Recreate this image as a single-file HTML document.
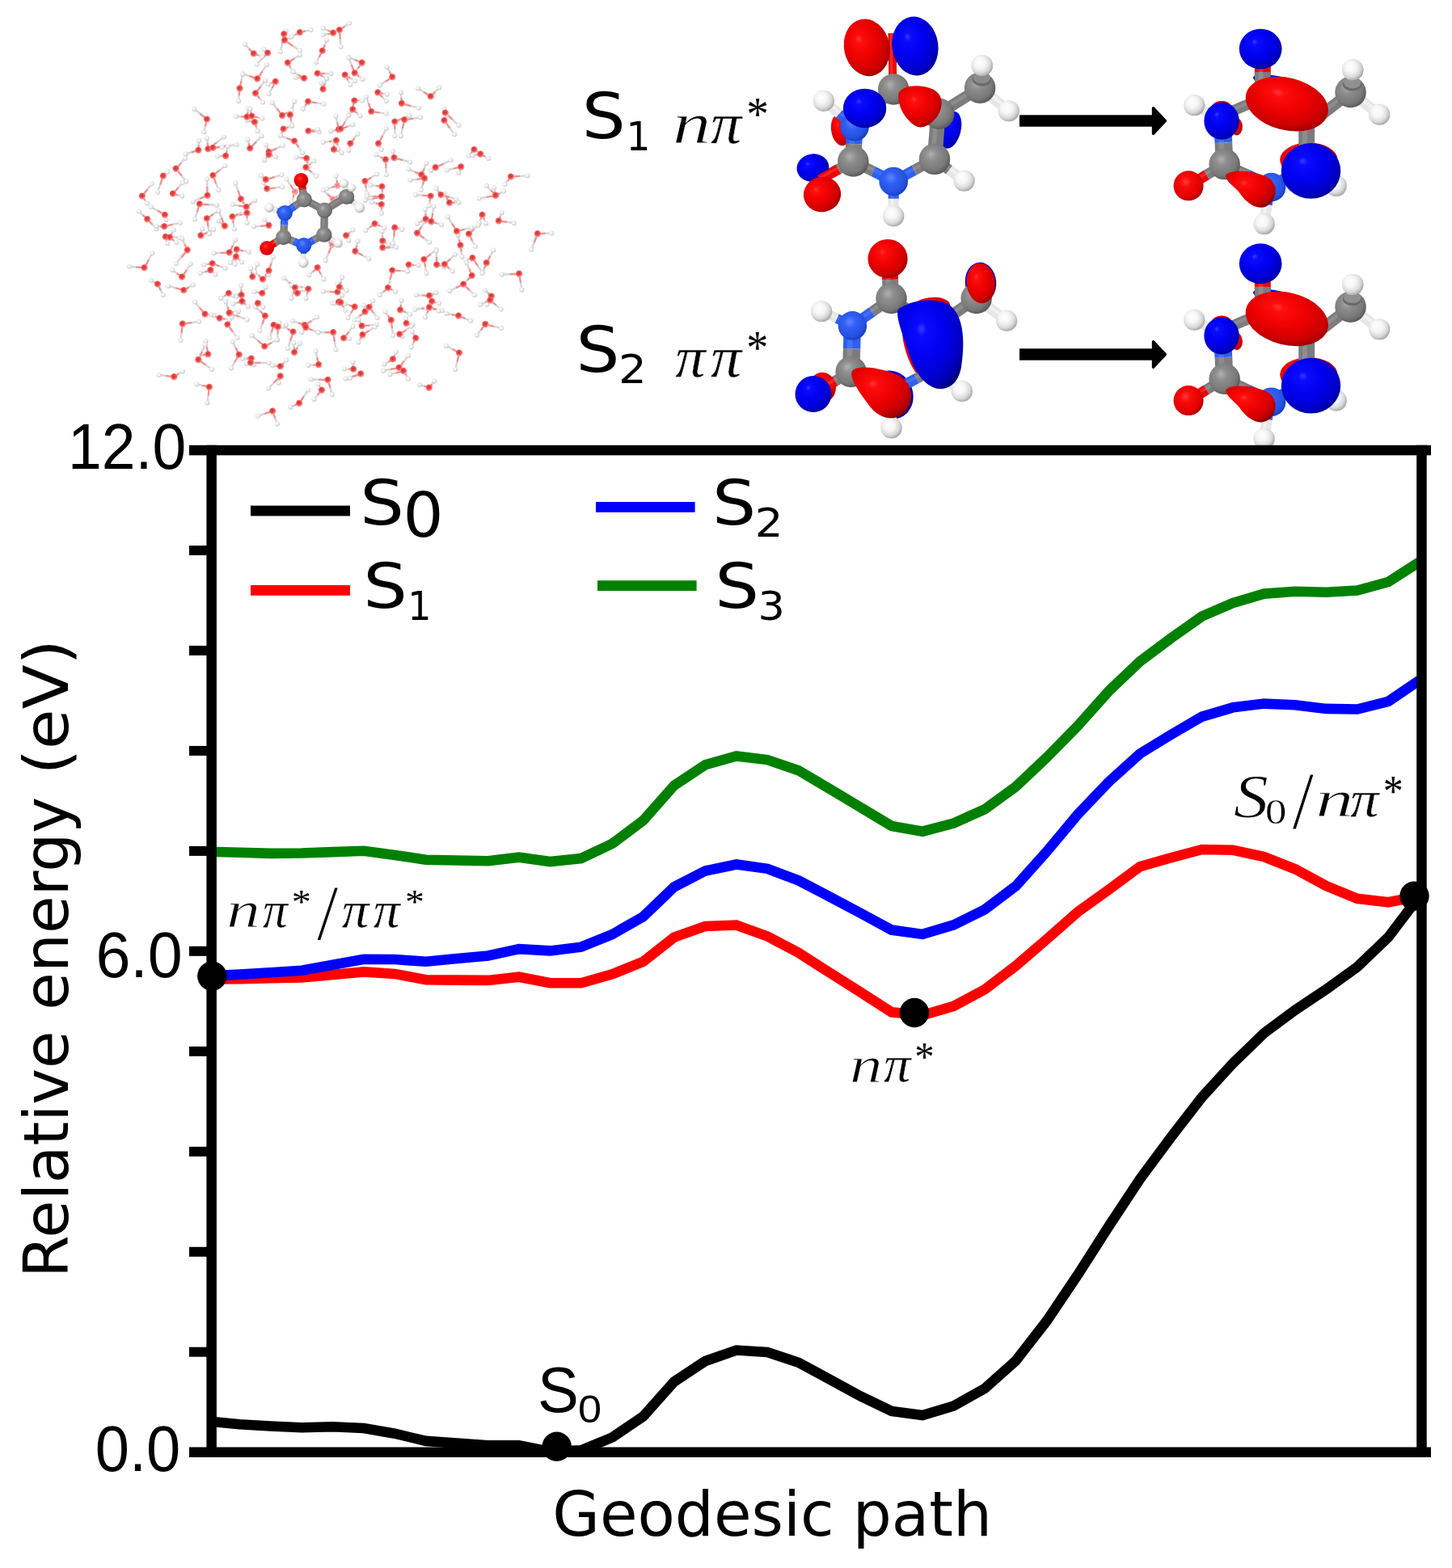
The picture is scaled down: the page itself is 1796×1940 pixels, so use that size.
<!DOCTYPE html>
<html lang="en">
<head>
<meta charset="utf-8">
<title>Relative energy along the geodesic path</title>
<style>
html,body{margin:0;padding:0;background:#fff;}
body{width:1796px;height:1940px;overflow:hidden;}
svg{display:block;}
</style>
</head>
<body>
<svg width="1796" height="1940" viewBox="0 0 1796 1940">
<rect x="0" y="0" width="1796" height="1940" fill="#ffffff"/>
<!--MOL-->
<defs>
<radialGradient id="gC" cx="0.42" cy="0.40" r="0.64" fx="0.38" fy="0.34"><stop offset="0" stop-color="#b0b0b0"/><stop offset="0.3" stop-color="#8e8e8e"/><stop offset="0.75" stop-color="#787878"/><stop offset="0.93" stop-color="#5e5e5e"/><stop offset="1" stop-color="#4c4c4c"/></radialGradient>
<radialGradient id="gN" cx="0.42" cy="0.40" r="0.62" fx="0.40" fy="0.36"><stop offset="0" stop-color="#5b86ff"/><stop offset="0.35" stop-color="#3060f4"/><stop offset="0.8" stop-color="#2450e0"/><stop offset="1" stop-color="#1a3cb4"/></radialGradient>
<radialGradient id="gO" cx="0.42" cy="0.40" r="0.62" fx="0.40" fy="0.36"><stop offset="0" stop-color="#ff3a3a"/><stop offset="0.3" stop-color="#f80a0a"/><stop offset="0.8" stop-color="#e00000"/><stop offset="1" stop-color="#a80000"/></radialGradient>
<radialGradient id="gH" cx="0.42" cy="0.40" r="0.64" fx="0.38" fy="0.34"><stop offset="0" stop-color="#ffffff"/><stop offset="0.4" stop-color="#f6f6f6"/><stop offset="0.72" stop-color="#dadada"/><stop offset="0.92" stop-color="#b0b0b0"/><stop offset="1" stop-color="#949494"/></radialGradient>
<radialGradient id="gR" cx="0.42" cy="0.40" r="0.66" fx="0.36" fy="0.32"><stop offset="0" stop-color="#ff3838"/><stop offset="0.12" stop-color="#ff0c0c"/><stop offset="0.5" stop-color="#ec0000"/><stop offset="0.8" stop-color="#cc0000"/><stop offset="0.95" stop-color="#a00000"/><stop offset="1" stop-color="#800000"/></radialGradient>
<radialGradient id="gB" cx="0.42" cy="0.40" r="0.66" fx="0.36" fy="0.32"><stop offset="0" stop-color="#3a3aff"/><stop offset="0.12" stop-color="#0a0aff"/><stop offset="0.5" stop-color="#0000ee"/><stop offset="0.8" stop-color="#0000c8"/><stop offset="0.95" stop-color="#00009a"/><stop offset="1" stop-color="#000078"/></radialGradient>
<radialGradient id="wO" cx="0.45" cy="0.42" r="0.6"><stop offset="0" stop-color="#e02626"/><stop offset="0.5" stop-color="#e84c4c"/><stop offset="1" stop-color="#f7b4b4"/></radialGradient>
<radialGradient id="wo" cx="0.45" cy="0.42" r="0.6"><stop offset="0" stop-color="#ee7070"/><stop offset="1" stop-color="#f8c4c4"/></radialGradient>
<radialGradient id="wH" cx="0.42" cy="0.40" r="0.62"><stop offset="0" stop-color="#ffffff"/><stop offset="0.45" stop-color="#f0f0f0"/><stop offset="1" stop-color="#c4c4c4"/></radialGradient>
</defs>
<g id="water-cluster"><path d="M352.7,40.3L353.7,38.6M349.0,54.3L346.9,64.1M362.5,56.9L371.0,62.6M355.9,47.8L359.0,46.1M378.4,38.4L384.5,37.1M365.2,43.0L360.5,45.3M405.3,37.5L399.6,34.8M405.3,42.1L399.6,43.1M307.9,60.2L303.0,55.1M319.7,68.4L324.4,70.1M328.7,63.1L326.6,61.1M323.7,73.2L317.6,79.5M364.2,72.3L371.0,67.9M359.3,83.4L362.0,88.2M401.7,55.5L404.1,49.4M394.7,70.6L391.3,76.9M324.8,87.8L330.1,79.9M308.3,94.0L300.0,91.2M336.4,109.2L332.7,116.0M336.0,102.6L331.9,104.0M370.5,96.2L365.7,95.7M368.8,92.5L362.7,88.9M401.9,91.0L409.3,91.2M399.0,94.4L404.1,97.2M298.5,99.8L300.0,91.9M295.7,118.0L295.1,125.0M322.7,106.7L328.1,99.4M321.1,121.6L325.1,126.5M398.3,106.0L397.3,102.5M402.0,103.1L404.1,97.2M247.3,140.5L240.2,134.8M253.9,156.2L252.2,163.3M298.2,144.3L292.1,143.8M306.4,138.9L307.1,134.0M318.6,145.3L324.4,146.5M310.4,138.8L309.4,134.8M317.1,157.3L318.7,162.1M310.0,150.0L305.9,148.9M342.4,134.2L336.9,127.0M355.4,139.3L360.5,136.3M361.9,133.0L364.2,125.5M360.2,149.7L361.2,155.8M391.7,127.4L400.3,128.8M377.7,130.7L374.7,134.8M356.5,157.3L361.2,155.5M348.6,164.0L346.9,167.6M389.0,162.8L395.0,163.3M387.7,161.1L392.8,160.3M354.7,170.9L346.9,167.9M369.6,182.5L374.0,188.9M417.0,151.2L415.3,143.8M413.6,161.4L409.1,162.2M236.8,188.4L229.7,190.4M245.7,179.3L246.0,173.9M256.7,176.9L256.0,170.9M268.2,176.1L277.0,169.4M269.7,182.5L274.8,182.1M279.6,180.8L292.8,179.1M307.7,177.4L306.3,172.4M317.2,175.1L323.6,168.2M342.2,183.6L349.9,179.9M330.7,183.2L329.0,179.2M407.0,175.1L399.6,176.1M417.3,179.4L418.3,183.9M418.4,187.2L422.7,188.9M413.2,179.4L413.3,174.7M426.6,32.5L432.0,28.8M420.8,48.6L421.5,58.1M438.7,73.9L431.3,70.9M442.4,85.1L438.0,91.2M444.2,94.6L448.6,97.9M434.7,80.1L431.3,71.6M430.5,99.3L433.5,104.7M433.4,96.8L438.8,100.2M481.7,88.5L478.6,82.9M476.7,100.9L469.6,105.5M473.1,120.3L477.9,125.0M473.6,115.7L478.6,116.7M524.1,113.8L517.0,109.2M538.5,113.4L543.3,108.5M496.4,120.6L495.9,114.5M508.4,131.1L517.7,133.6M436.6,131.0L435.0,136.3M443.7,124.4L448.0,124.3M433.6,139.2L431.3,142.3M441.4,139.8L445.4,143.3M455.9,128.0L453.1,119.7M469.6,139.4L477.9,140.5M550.0,136.8L549.3,134.5M559.9,148.1L567.3,155.1M556.5,158.6L562.1,166.3M551.1,145.3L552.3,142.3M488.4,160.1L488.4,167.9M498.3,146.4L506.4,143.0M497.9,159.1L495.9,167.9M511.2,146.7L520.0,145.3M429.8,156.7L436.5,154.3M426.9,150.5L431.3,143.0M438.5,171.0L442.6,165.6M432.3,182.2L431.3,185.9M473.5,167.5L477.9,159.1M470.2,181.8L471.9,185.1M590.9,187.8L594.4,189.9M582.7,189.2L579.6,192.6M223.9,201.8L228.9,196.0M224.7,217.5L230.4,224.6M204.8,214.9L207.1,212.6M198.1,228.6L195.1,237.4M182.3,234.3L187.6,227.6M179.3,247.6L182.1,251.6M220.1,241.3L225.2,242.6M220.5,232.2L225.9,226.1M271.8,210.4L278.5,205.0M267.2,227.0L270.3,235.1M256.3,230.7L256.0,221.6M246.8,246.0L238.7,249.4M258.5,253.2L268.0,253.9M243.7,262.7L241.0,271.2M294.4,235.6L291.3,226.8M301.8,251.7L304.8,256.1M310.6,251.6L315.4,247.9M295.3,254.5L287.6,253.1M305.6,270.3L305.6,275.7M296.1,266.1L288.3,268.2M288.8,276.4L289.8,283.2M294.6,264.9L300.3,262.2M257.6,280.8L259.0,289.2M263.8,265.1L270.3,260.7M273.8,269.2L270.3,260.7M273.8,276.3L270.3,273.4M249.3,286.9L250.0,283.2M257.2,287.3L264.3,284.0M194.6,260.5L186.8,256.1M204.9,269.2L205.6,271.9M176.5,265.8L171.8,261.4M188.5,277.8L193.6,283.2M214.1,277.7L222.9,275.7M198.0,280.2L193.6,280.2M214.4,293.4L222.2,293.7M206.1,297.5L207.1,301.2M214.7,297.2L218.4,300.0M212.7,288.7L214.8,284.6M228.2,301.7L225.2,295.2M224.1,318.6L217.7,326.1M322.3,279.7L313.9,280.2M329.8,275.1L327.4,271.9M325.6,219.4L322.9,217.1M339.6,219.0L348.4,216.3M340.7,232.4L349.2,231.3M327.9,229.5L325.9,226.1M359.2,228.7L354.5,221.6M362.5,244.4L360.5,250.1M385.5,213.1L391.3,217.8M383.9,202.7L388.3,199.0M372.2,195.2L366.5,194.5M380.4,201.7L381.3,206.4M273.7,193.1L269.1,193.2M280.7,186.5L281.9,181.2M329.6,195.2L327.0,198.2M337.2,192.9L341.0,194.1M405.0,240.2L399.6,235.1M417.2,243.0L421.8,240.3M410.2,231.9L404.1,233.6M416.5,223.1L415.7,217.6M273.0,312.9L264.3,313.3M287.9,303.8L291.3,296.7M301.1,310.4L307.9,311.8M291.6,318.7L290.6,326.8M296.0,321.3L299.1,324.3M288.3,321.7L285.2,325.0M257.0,326.9L252.2,327.6M271.4,329.4L278.5,332.1M253.5,336.4L247.7,338.1M263.8,337.1L266.5,339.4M168.2,330.5L159.8,329.8M183.9,321.4L188.3,313.3M218.6,338.0L213.1,334.3M231.0,333.9L235.7,326.8M335.5,325.6L337.9,317.8M328.1,341.3L324.4,346.3M315.7,333.9L318.4,326.8M311.1,336.8L310.1,332.1M319.8,340.6L315.4,336.6M329.1,342.4L332.4,339.8M406.3,313.5L402.6,322.3M406.8,299.2L403.5,296.3M387.0,336.3L382.3,340.3M396.9,339.2L400.3,345.6M190.6,349.1L186.8,347.1M198.8,359.1L201.9,365.1M216.7,356.2L207.9,353.9M233.6,355.4L238.7,352.4M277.7,366.2L273.3,368.9M287.9,365.2L291.9,367.1M298.4,358.5L298.1,353.1M292.8,365.2L287.8,365.3M357.5,349.5L351.4,344.1M362.5,363.1L360.5,368.9M372.4,355.1L365.0,353.1M379.9,363.8L378.5,368.9M363.9,357.4L360.5,352.9M372.4,360.2L376.1,358.1M407.7,361.0L399.6,360.6M417.4,356.0L417.3,351.6M326.9,358.8L328.9,355.4M319.0,361.8L314.6,360.9M470.5,194.2L465.1,191.5M477.5,207.9L477.9,216.3M498.4,198.2L507.2,200.5M486.8,190.9L486.1,187.3M459.4,219.5L465.9,215.6M452.8,232.7L453.8,239.6M464.8,229.9L458.3,229.1M473.0,237.5L473.4,242.9M461.9,243.0L453.8,242.6M460.7,245.8L451.6,247.9M471.9,258.9L471.9,263.7M465.3,251.5L459.8,250.1M512.8,212.6L505.7,209.5M524.8,208.5L527.5,202.0M515.3,221.9L507.2,222.8M522.8,228.7L520.7,235.1M549.1,202.3L557.6,198.3M535.5,209.4L532.8,211.0M560.8,208.6L553.0,210.3M568.7,210.7L567.3,214.1M599.8,193.6L604.2,196.0M589.0,191.6L584.6,192.3M643.1,217.9L652.3,217.4M627.8,223.9L624.5,228.3M618.6,239.0L623.0,236.6M607.0,235.3L601.9,229.8M602.0,243.9L592.9,245.6M612.0,236.6L611.1,232.3M522.4,241.8L514.0,241.1M531.5,249.2L530.5,254.6M542.2,236.6L539.5,232.8M555.9,244.0L564.3,246.4M552.3,244.7L549.3,239.6M562.4,250.8L567.6,250.8M520.9,274.1L516.2,276.4M526.3,264.4L526.0,258.8M535.2,263.9L536.5,255.4M540.5,276.3L546.3,277.9M524.5,294.7L531.2,299.7M521.2,280.6L525.2,274.2M558.9,276.3L553.8,268.2M575.0,283.7L583.1,281.7M594.6,271.3L592.9,275.7M599.1,271.7L601.2,276.4M584.2,298.0L587.6,305.0M586.3,283.6L591.4,278.7M619.0,267.6L620.7,262.9M627.3,274.8L635.7,276.0M674.6,288.8L682.3,288.5M660.7,300.0L657.2,308.8M570.7,311.4L571.5,317.8M567.9,296.5L566.6,290.7M457.4,281.4L452.3,285.0M470.2,279.5L475.6,281.7M493.4,282.9L497.4,284.0M487.2,292.5L486.1,301.2M473.0,291.6L472.6,286.2M477.3,300.5L480.5,302.3M482.5,306.3L489.9,306.1M473.1,300.6L472.9,295.7M429.9,294.8L431.3,297.5M432.6,287.7L436.2,284.6M441.2,304.0L442.6,298.2M448.6,316.0L456.1,320.0M512.3,328.0L517.7,328.3M504.9,332.0L504.3,335.7M532.8,314.3L539.5,308.8M526.1,330.4L527.5,338.1M539.9,318.0L539.5,310.3M545.1,329.0L549.0,330.2M557.1,320.3L562.8,314.8M555.4,331.9L559.8,335.8M580.1,320.5L576.3,321.5M591.2,329.2L596.6,337.3M606.5,316.6L610.2,309.5M599.0,332.3L596.6,338.1M580.1,332.4L577.1,325.3M578.1,346.5L573.3,350.9M563.8,356.2L556.1,359.9M580.8,359.1L586.9,365.1M630.4,339.2L620.7,339.6M644.0,349.6L645.5,358.4M495.7,335.1L504.2,335.5M482.5,346.0L480.1,355.4M474.3,361.1L469.6,365.1M485.1,358.6L489.1,360.7M522.2,365.5L514.7,365.1M535.8,363.8L539.5,362.1M603.5,362.6L599.9,359.3M604.7,372.3L602.2,377.0M421.7,348.8L423.0,343.3M424.7,357.6L428.6,359.4M237.1,399.2L246.2,397.8M224.5,412.0L223.4,421.1M246.7,380.5L241.0,373.8M259.5,389.6L264.3,390.3M266.0,391.4L261.2,389.5M278.4,394.7L283.8,395.6M290.0,386.0L295.1,385.0M295.8,391.8L305.6,395.6M281.3,379.4L279.3,373.0M288.1,387.5L291.6,387.7M288.2,410.7L293.6,418.1M284.4,396.6L286.8,392.6M293.4,374.7L288.3,376.0M303.6,376.5L306.9,379.3M317.1,377.3L315.4,379.0M322.6,377.8L325.4,379.9M324.4,401.0L321.4,409.1M321.5,384.8L316.1,379.8M342.4,400.7L345.4,399.3M335.8,411.0L333.4,418.1M343.5,413.3L343.2,420.4M349.3,403.1L353.8,402.0M359.0,421.8L356.0,430.9M355.7,406.9L349.9,403.8M368.7,399.4L362.0,397.1M385.3,396.9L392.0,392.6M386.8,408.6L393.5,411.3M375.7,408.6L373.3,411.2M414.0,422.9L415.3,432.4M402.0,411.3L393.5,411.3M318.7,421.2L311.6,415.1M335.7,424.1L342.4,420.4M367.9,429.9L371.0,424.9M363.8,429.5L363.5,424.1M255.8,429.3L254.5,421.9M250.5,439.2L244.7,439.9M254.6,451.6L262.0,456.9M250.0,434.8L253.7,426.4M291.3,429.9L287.6,422.6M290.4,447.9L286.1,455.4M305.1,443.7L300.3,443.7M312.4,447.9L313.6,451.4M322.5,448.9L332.7,448.9M307.2,449.3L304.8,449.7M341.6,452.6L337.2,451.9M350.8,449.1L354.0,445.6M338.7,473.7L331.9,480.5M345.7,470.0L344.7,473.7M387.3,451.6L381.5,451.9M392.2,442.1L390.5,434.6M205.1,465.0L196.6,464.0M221.2,462.5L225.9,459.4M250.3,476.9L243.2,475.2M257.6,489.7L256.4,498.5M394.0,469.6L384.5,469.2M408.5,479.9L410.8,488.0M392.7,489.0L388.3,494.0M395.6,478.6L393.5,475.2M376.0,490.1L380.8,482.8M364.2,501.6L359.3,503.8M327.2,511.9L319.1,514.6M340.3,517.4L342.9,524.5M414.7,374.5L411.1,375.1M421.4,368.9L423.3,364.9M434.2,387.2L430.5,393.3M431.8,377.7L426.0,376.0M417.2,375.0L413.6,375.3M424.7,379.8L427.2,384.1M459.3,375.8L461.3,372.3M462.2,387.4L466.6,393.3M444.5,391.2L438.8,395.6M450.8,381.3L450.2,377.6M496.0,376.9L496.7,371.5M501.8,386.4L507.2,388.8M521.3,381.8L513.2,382.8M539.9,382.6L547.0,384.3M528.4,387.1L526.0,392.6M537.6,382.9L542.7,384.8M530.4,377.6L527.2,381.4M539.0,374.3L542.9,375.3M559.1,389.3L552.3,388.0M575.4,394.2L582.1,397.1M599.8,374.4L594.4,376.8M613.7,377.7L619.6,382.8M611.1,403.9L619.9,406.1M594.6,408.7L589.9,414.8M479.8,390.5L476.4,385.8M485.1,406.6L486.1,415.1M502.3,396.8L501.9,394.1M506.8,401.3L510.2,402.3M502.3,408.2L508.7,403.8M496.1,415.3L497.4,416.6M457.7,402.4L465.9,401.6M445.5,399.1L443.6,395.6M445.7,419.3L443.3,423.4M456.8,409.0L463.6,404.6M431.5,410.4L436.5,403.8M429.0,418.7L432.0,418.9M511.3,424.4L508.7,429.4M511.8,414.0L509.6,410.5M559.2,431.8L552.0,427.9M565.4,447.8L563.1,456.9M488.2,439.5L489.9,435.4M480.4,447.7L475.6,450.4M482.9,457.0L474.1,458.7M499.9,446.7L504.9,439.9M490.0,461.3L482.4,463.2M502.4,464.4L505.0,468.8M431.1,456.6L426.0,456.4M436.9,452.1L436.5,448.2M436.0,465.8L427.5,468.5M438.9,465.3L432.8,467.7M524.3,477.7L518.9,476.0M534.5,475.2L537.4,471.4" fill="none" stroke="#d6d6d6" stroke-width="2.4"/><path d="M351.4,42.3L352.7,40.3M351.4,42.3L349.0,54.3M352.2,49.8L362.5,56.9M352.2,49.8L355.9,47.8M371.0,40.1L378.4,38.4M371.0,40.1L365.2,43.0M412.3,40.8L405.3,37.5M412.3,40.8L405.3,42.1M313.9,66.4L307.9,60.2M313.9,66.4L319.7,68.4M331.2,65.6L328.7,63.1M331.2,65.6L323.7,73.2M356.0,77.7L364.2,72.3M356.0,77.7L359.3,83.4M398.8,62.9L401.7,55.5M398.8,62.9L394.7,70.6M318.4,97.5L324.8,87.8M318.4,97.5L308.3,94.0M340.9,101.0L336.4,109.2M340.9,101.0L336.0,102.6M376.3,96.9L370.5,96.2M376.3,96.9L368.8,92.5M392.8,90.9L401.9,91.0M392.8,90.9L399.0,94.4M296.6,109.5L298.5,99.8M296.6,109.5L295.7,118.0M316.1,115.5L322.7,106.7M316.1,115.5L321.1,121.6M399.6,110.4L398.3,106.0M399.6,110.4L402.0,103.1M256.0,147.6L247.3,140.5M256.0,147.6L253.9,156.2M305.6,144.8L298.2,144.3M305.6,144.8L306.4,138.9M311.6,143.8L318.6,145.3M311.6,143.8L310.4,138.8M315.1,151.3L317.1,157.3M315.1,151.3L310.0,150.0M349.2,143.0L342.4,134.2M349.2,143.0L355.4,139.3M359.0,142.3L361.9,133.0M359.0,142.3L360.2,149.7M381.2,125.8L391.7,127.4M381.2,125.8L377.7,130.7M350.7,159.6L356.5,157.3M350.7,159.6L348.6,164.0M381.5,162.1L389.0,162.8M381.5,162.1L387.7,161.1M364.2,174.6L354.7,170.9M364.2,174.6L369.6,182.5M419.1,160.3L417.0,151.2M419.1,160.3L413.6,161.4M245.5,185.9L236.8,188.4M245.5,185.9L245.7,179.3M257.5,184.4L256.7,176.9M257.5,184.4L268.2,176.1M263.5,182.9L269.7,182.5M263.5,182.9L279.6,180.8M309.4,183.6L307.7,177.4M309.4,183.6L317.2,175.1M332.7,188.1L342.2,183.6M332.7,188.1L330.7,183.2M416.1,173.9L407.0,175.1M416.1,173.9L417.3,179.4M413.1,185.1L418.4,187.2M413.1,185.1L413.2,179.4M420.0,37.1L426.6,32.5M420.0,37.1L420.8,48.6M447.8,77.7L438.7,73.9M447.8,77.7L442.4,85.1M438.8,90.4L444.2,94.6M438.8,90.4L434.7,80.1M426.8,92.7L430.5,99.3M426.8,92.7L433.4,96.8M485.4,95.4L481.7,88.5M485.4,95.4L476.7,100.9M467.4,114.5L473.1,120.3M467.4,114.5L473.6,115.7M532.8,119.4L524.1,113.8M532.8,119.4L538.5,113.4M497.0,128.0L496.4,120.6M497.0,128.0L508.4,131.1M438.5,124.6L436.6,131.0M438.5,124.6L443.7,124.4M436.5,135.5L433.6,139.2M436.5,135.5L441.4,139.8M459.4,138.1L455.9,128.0M459.4,138.1L469.6,139.4M550.8,139.6L550.0,136.8M550.8,139.6L559.9,148.1M549.6,149.1L556.5,158.6M549.6,149.1L551.1,145.3M488.4,150.6L488.4,160.1M488.4,150.6L498.3,146.4M500.4,148.3L497.9,159.1M500.4,148.3L511.2,146.7M421.5,159.6L429.8,156.7M421.5,159.6L426.9,150.5M433.5,177.6L438.5,171.0M433.5,177.6L432.3,182.2M468.1,177.6L473.5,167.5M468.1,177.6L470.2,181.8M586.6,185.1L590.9,187.8M586.6,185.1L582.7,189.2M217.7,208.8L223.9,201.8M217.7,208.8L224.7,217.5M201.9,217.8L204.8,214.9M201.9,217.8L198.1,228.6M175.9,242.6L182.3,234.3M175.9,242.6L179.3,247.6M213.9,239.6L220.1,241.3M213.9,239.6L220.5,232.2M263.5,217.1L271.8,210.4M263.5,217.1L267.2,227.0M256.7,241.9L256.3,230.7M256.7,241.9L246.8,246.0M247.0,252.4L258.5,253.2M247.0,252.4L243.7,262.7M298.1,246.4L294.4,235.6M298.1,246.4L301.8,251.7M304.8,256.1L310.6,251.6M304.8,256.1L295.3,254.5M305.6,263.7L305.6,270.3M305.6,263.7L296.1,266.1M287.6,268.2L288.8,276.4M287.6,268.2L294.6,264.9M256.0,270.4L257.6,280.8M256.0,270.4L263.8,265.1M278.1,279.7L273.8,269.2M278.1,279.7L273.8,276.3M248.5,291.5L249.3,286.9M248.5,291.5L257.2,287.3M204.1,265.9L194.6,260.5M204.1,265.9L204.9,269.2M182.3,271.2L176.5,265.8M182.3,271.2L188.5,277.8M203.4,280.2L214.1,277.7M203.4,280.2L198.0,280.2M204.9,293.0L214.4,293.4M204.9,293.0L206.1,297.5M210.1,293.7L214.7,297.2M210.1,293.7L212.7,288.7M231.9,309.5L228.2,301.7M231.9,309.5L224.1,318.6M332.7,279.0L322.3,279.7M332.7,279.0L329.8,275.1M328.9,222.3L325.6,219.4M328.9,222.3L339.6,219.0M330.4,233.6L340.7,232.4M330.4,233.6L327.9,229.5M365.0,237.4L359.2,228.7M365.0,237.4L362.5,244.4M378.5,207.3L385.5,213.1M378.5,207.3L383.9,202.7M379.3,196.0L372.2,195.2M379.3,196.0L380.4,201.7M279.3,193.0L273.7,193.1M279.3,193.0L280.7,186.5M332.7,191.5L329.6,195.2M332.7,191.5L337.2,192.9M411.6,246.4L405.0,240.2M411.6,246.4L417.2,243.0M417.6,229.8L410.2,231.9M417.6,229.8L416.5,223.1M283.8,312.5L273.0,312.9M283.8,312.5L287.9,303.8M292.8,308.8L301.1,310.4M292.8,308.8L291.6,318.7M292.1,317.8L296.0,321.3M292.1,317.8L288.3,321.7M262.8,326.1L257.0,326.9M262.8,326.1L271.4,329.4M260.5,334.3L253.5,336.4M260.5,334.3L263.8,337.1M178.6,331.3L168.2,330.5M178.6,331.3L183.9,321.4M225.2,342.6L218.6,338.0M225.2,342.6L231.0,333.9M332.7,335.1L335.5,325.6M332.7,335.1L328.1,341.3M312.4,342.6L315.7,333.9M312.4,342.6L311.1,336.8M325.1,345.6L319.8,340.6M325.1,345.6L329.1,342.4M410.8,302.8L406.3,313.5M410.8,302.8L406.8,299.2M392.8,331.3L387.0,336.3M392.8,331.3L396.9,339.2M195.1,351.6L190.6,349.1M195.1,351.6L198.8,359.1M227.4,359.1L216.7,356.2M227.4,359.1L233.6,355.4M283.0,362.9L277.7,366.2M283.0,362.9L287.9,365.2M298.8,365.1L298.4,358.5M298.8,365.1L292.8,365.2M365.0,356.1L357.5,349.5M365.0,356.1L362.5,363.1M381.5,357.6L372.4,355.1M381.5,357.6L379.9,363.8M368.0,362.9L363.9,357.4M368.0,362.9L372.4,360.2M417.6,361.4L407.7,361.0M417.6,361.4L417.4,356.0M324.4,362.9L326.9,358.8M324.4,362.9L319.0,361.8M477.1,197.5L470.5,194.2M477.1,197.5L477.5,207.9M487.7,195.3L498.4,198.2M487.7,195.3L486.8,190.9M451.6,224.3L459.4,219.5M451.6,224.3L452.8,232.7M472.6,230.9L464.8,229.9M472.6,230.9L473.0,237.5M471.9,243.4L461.9,243.0M471.9,243.4L460.7,245.8M471.9,253.1L471.9,258.9M471.9,253.1L465.3,251.5M521.5,216.3L512.8,212.6M521.5,216.3L524.8,208.5M525.2,220.8L515.3,221.9M525.2,220.8L522.8,228.7M538.8,207.3L549.1,202.3M538.8,207.3L535.5,209.4M570.3,206.5L560.8,208.6M570.3,206.5L568.7,210.7M594.4,190.8L599.8,193.6M594.4,190.8L589.0,191.6M632.0,218.6L643.1,217.9M632.0,218.6L627.8,223.9M613.2,241.9L618.6,239.0M613.2,241.9L607.0,235.3M613.2,241.9L602.0,243.9M613.2,241.9L612.0,236.6M532.8,242.6L522.4,241.8M532.8,242.6L531.5,249.2M545.5,241.1L542.2,236.6M545.5,241.1L555.9,244.0M556.1,250.9L552.3,244.7M556.1,250.9L562.4,250.8M526.7,271.2L520.9,274.1M526.7,271.2L526.3,264.4M533.5,274.2L535.2,263.9M533.5,274.2L540.5,276.3M516.2,288.5L524.5,294.7M516.2,288.5L521.2,280.6M565.1,286.2L558.9,276.3M565.1,286.2L575.0,283.7M596.6,265.9L594.6,271.3M596.6,265.9L599.1,271.7M580.1,289.5L584.2,298.0M580.1,289.5L586.3,283.6M616.9,273.4L619.0,267.6M616.9,273.4L627.3,274.8M665.0,289.2L674.6,288.8M665.0,289.2L660.7,300.0M569.6,303.5L570.7,311.4M569.6,303.5L567.9,296.5M463.6,276.9L457.4,281.4M463.6,276.9L470.2,279.5M488.4,281.7L493.4,282.9M488.4,281.7L487.2,292.5M473.4,298.2L473.0,291.6M473.4,298.2L477.3,300.5M473.4,306.5L482.5,306.3M473.4,306.5L473.1,300.6M428.3,291.5L429.9,294.8M428.3,291.5L432.6,287.7M439.5,311.0L441.2,304.0M439.5,311.0L448.6,316.0M505.7,327.6L512.3,328.0M505.7,327.6L504.9,332.0M524.5,321.1L532.8,314.3M524.5,321.1L526.1,330.4M540.3,327.6L539.9,318.0M540.3,327.6L545.1,329.0M550.0,327.1L557.1,320.3M550.0,327.1L555.4,331.9M584.6,319.3L580.1,320.5M584.6,319.3L591.2,329.2M601.9,325.3L606.5,316.6M601.9,325.3L599.0,332.3M583.9,341.1L580.1,332.4M583.9,341.1L578.1,346.5M573.3,351.6L563.8,356.2M573.3,351.6L580.8,359.1M642.2,338.8L630.4,339.2M642.2,338.8L644.0,349.6M485.4,334.6L495.7,335.1M485.4,334.6L482.5,346.0M480.1,356.1L474.3,361.1M480.1,356.1L485.1,358.6M531.2,365.9L522.2,365.5M531.2,365.9L535.8,363.8M607.9,366.6L603.5,362.6M607.9,366.6L604.7,372.3M420.0,355.4L421.7,348.8M420.0,355.4L424.7,357.6M225.9,400.8L237.1,399.2M225.9,400.8L224.5,412.0M253.7,388.8L246.7,380.5M253.7,388.8L259.5,389.6M271.8,393.8L266.0,391.4M271.8,393.8L278.4,394.7M283.8,387.3L290.0,386.0M283.8,387.3L295.8,391.8M283.8,387.3L281.3,379.4M283.8,387.3L288.1,387.5M281.5,401.6L288.2,410.7M281.5,401.6L284.4,396.6M299.6,373.0L293.4,374.7M299.6,373.0L303.6,376.5M319.1,375.3L317.1,377.3M319.1,375.3L322.6,377.8M328.1,391.0L324.4,401.0M328.1,391.0L321.5,384.8M338.7,402.3L342.4,400.7M338.7,402.3L335.8,411.0M343.9,404.6L343.5,413.3M343.9,404.6L349.3,403.1M362.7,410.6L359.0,421.8M362.7,410.6L355.7,406.9M377.0,402.3L368.7,399.4M377.0,402.3L385.3,396.9M378.5,405.3L386.8,408.6M378.5,405.3L375.7,408.6M412.3,411.3L414.0,422.9M412.3,411.3L402.0,411.3M327.4,428.6L318.7,421.2M327.4,428.6L335.7,424.1M364.2,436.1L367.9,429.9M364.2,436.1L363.8,429.5M257.5,438.4L255.8,429.3M257.5,438.4L250.5,439.2M245.5,445.2L254.6,451.6M245.5,445.2L250.0,434.8M295.8,438.9L291.3,429.9M295.8,438.9L290.4,447.9M310.9,443.7L305.1,443.7M310.9,443.7L312.4,447.9M310.1,448.9L322.5,448.9M310.1,448.9L307.2,449.3M346.9,453.4L341.6,452.6M346.9,453.4L350.8,449.1M346.9,465.5L338.7,473.7M346.9,465.5L345.7,470.0M394.3,451.2L387.3,451.6M394.3,451.2L392.2,442.1M215.4,466.2L205.1,465.0M215.4,466.2L221.2,462.5M259.0,479.0L250.3,476.9M259.0,479.0L257.6,489.7M405.6,470.0L394.0,469.6M405.6,470.0L408.5,479.9M398.1,482.8L392.7,489.0M398.1,482.8L395.6,478.6M370.2,499.0L376.0,490.1M370.2,499.0L364.2,501.6M337.2,508.6L327.2,511.9M337.2,508.6L340.3,517.4M419.1,373.8L414.7,374.5M419.1,373.8L421.4,368.9M438.8,379.8L434.2,387.2M438.8,379.8L431.8,377.7M421.5,374.5L417.2,375.0M421.5,374.5L424.7,379.8M456.8,380.2L459.3,375.8M456.8,380.2L462.2,387.4M451.6,385.8L444.5,391.2M451.6,385.8L450.8,381.3M495.2,383.5L496.0,376.9M495.2,383.5L501.8,386.4M531.2,380.5L521.3,381.8M531.2,380.5L539.9,382.6M531.2,380.5L528.4,387.1M531.2,380.5L537.6,382.9M534.3,373.0L530.4,377.6M534.3,373.0L539.0,374.3M567.3,390.7L559.1,389.3M567.3,390.7L575.4,394.2M606.4,371.5L599.8,374.4M606.4,371.5L613.7,377.7M600.4,401.3L611.1,403.9M600.4,401.3L594.6,408.7M483.9,396.3L479.8,390.5M483.9,396.3L485.1,406.6M502.7,400.1L502.3,396.8M502.7,400.1L506.8,401.3M494.4,413.6L502.3,408.2M494.4,413.6L496.1,415.3M447.8,403.4L457.7,402.4M447.8,403.4L445.5,399.1M448.6,414.3L445.7,419.3M448.6,414.3L456.8,409.0M425.3,418.4L431.5,410.4M425.3,418.4L429.0,418.7M514.4,418.4L511.3,424.4M514.4,418.4L511.8,414.0M568.1,436.6L559.2,431.8M568.1,436.6L565.4,447.8M486.1,444.4L488.2,439.5M486.1,444.4L480.4,447.7M493.7,454.9L482.9,457.0M493.7,454.9L499.9,446.7M499.2,459.0L490.0,461.3M499.2,459.0L502.4,464.4M437.3,456.9L431.1,456.6M437.3,456.9L436.9,452.1M446.3,462.5L436.0,465.8M446.3,462.5L438.9,465.3M530.9,479.7L524.3,477.7M530.9,479.7L534.5,475.2" fill="none" stroke="#ee9292" stroke-width="2.4"/><g fill="url(#wH)"><circle cx="353.7" cy="38.6" r="3.0"/><circle cx="346.9" cy="64.1" r="3.0"/><circle cx="371.0" cy="62.6" r="3.0"/><circle cx="359.0" cy="46.1" r="3.0"/><circle cx="384.5" cy="37.1" r="3.0"/><circle cx="360.5" cy="45.3" r="3.0"/><circle cx="399.6" cy="34.8" r="3.0"/><circle cx="399.6" cy="43.1" r="3.0"/><circle cx="303.0" cy="55.1" r="3.0"/><circle cx="324.4" cy="70.1" r="3.0"/><circle cx="326.6" cy="61.1" r="3.0"/><circle cx="317.6" cy="79.5" r="3.0"/><circle cx="371.0" cy="67.9" r="3.0"/><circle cx="362.0" cy="88.2" r="3.0"/><circle cx="404.1" cy="49.4" r="3.0"/><circle cx="391.3" cy="76.9" r="3.0"/><circle cx="330.1" cy="79.9" r="3.0"/><circle cx="300.0" cy="91.2" r="3.0"/><circle cx="332.7" cy="116.0" r="3.0"/><circle cx="331.9" cy="104.0" r="3.0"/><circle cx="365.7" cy="95.7" r="3.0"/><circle cx="362.7" cy="88.9" r="3.0"/><circle cx="409.3" cy="91.2" r="3.0"/><circle cx="404.1" cy="97.2" r="3.0"/><circle cx="300.0" cy="91.9" r="3.0"/><circle cx="295.1" cy="125.0" r="3.0"/><circle cx="328.1" cy="99.4" r="3.0"/><circle cx="325.1" cy="126.5" r="3.0"/><circle cx="397.3" cy="102.5" r="3.0"/><circle cx="404.1" cy="97.2" r="3.0"/><circle cx="240.2" cy="134.8" r="3.0"/><circle cx="252.2" cy="163.3" r="3.0"/><circle cx="292.1" cy="143.8" r="3.0"/><circle cx="307.1" cy="134.0" r="3.0"/><circle cx="324.4" cy="146.5" r="3.0"/><circle cx="309.4" cy="134.8" r="3.0"/><circle cx="318.7" cy="162.1" r="3.0"/><circle cx="305.9" cy="148.9" r="3.0"/><circle cx="336.9" cy="127.0" r="3.0"/><circle cx="360.5" cy="136.3" r="3.0"/><circle cx="364.2" cy="125.5" r="3.0"/><circle cx="361.2" cy="155.8" r="3.0"/><circle cx="400.3" cy="128.8" r="3.0"/><circle cx="374.7" cy="134.8" r="3.0"/><circle cx="361.2" cy="155.5" r="3.0"/><circle cx="346.9" cy="167.6" r="3.0"/><circle cx="395.0" cy="163.3" r="3.0"/><circle cx="392.8" cy="160.3" r="3.0"/><circle cx="346.9" cy="167.9" r="3.0"/><circle cx="374.0" cy="188.9" r="3.0"/><circle cx="415.3" cy="143.8" r="3.0"/><circle cx="409.1" cy="162.2" r="3.0"/><circle cx="229.7" cy="190.4" r="3.0"/><circle cx="246.0" cy="173.9" r="3.0"/><circle cx="256.0" cy="170.9" r="3.0"/><circle cx="277.0" cy="169.4" r="3.0"/><circle cx="274.8" cy="182.1" r="3.0"/><circle cx="292.8" cy="179.1" r="3.0"/><circle cx="306.3" cy="172.4" r="3.0"/><circle cx="323.6" cy="168.2" r="3.0"/><circle cx="349.9" cy="179.9" r="3.0"/><circle cx="329.0" cy="179.2" r="3.0"/><circle cx="399.6" cy="176.1" r="3.0"/><circle cx="418.3" cy="183.9" r="3.0"/><circle cx="422.7" cy="188.9" r="3.0"/><circle cx="413.3" cy="174.7" r="3.0"/><circle cx="432.0" cy="28.8" r="3.0"/><circle cx="421.5" cy="58.1" r="3.0"/><circle cx="431.3" cy="70.9" r="3.0"/><circle cx="438.0" cy="91.2" r="3.0"/><circle cx="448.6" cy="97.9" r="3.0"/><circle cx="431.3" cy="71.6" r="3.0"/><circle cx="433.5" cy="104.7" r="3.0"/><circle cx="438.8" cy="100.2" r="3.0"/><circle cx="478.6" cy="82.9" r="3.0"/><circle cx="469.6" cy="105.5" r="3.0"/><circle cx="477.9" cy="125.0" r="3.0"/><circle cx="478.6" cy="116.7" r="3.0"/><circle cx="517.0" cy="109.2" r="3.0"/><circle cx="543.3" cy="108.5" r="3.0"/><circle cx="495.9" cy="114.5" r="3.0"/><circle cx="517.7" cy="133.6" r="3.0"/><circle cx="435.0" cy="136.3" r="3.0"/><circle cx="448.0" cy="124.3" r="3.0"/><circle cx="431.3" cy="142.3" r="3.0"/><circle cx="445.4" cy="143.3" r="3.0"/><circle cx="453.1" cy="119.7" r="3.0"/><circle cx="477.9" cy="140.5" r="3.0"/><circle cx="549.3" cy="134.5" r="3.0"/><circle cx="567.3" cy="155.1" r="3.0"/><circle cx="562.1" cy="166.3" r="3.0"/><circle cx="552.3" cy="142.3" r="3.0"/><circle cx="488.4" cy="167.9" r="3.0"/><circle cx="506.4" cy="143.0" r="3.0"/><circle cx="495.9" cy="167.9" r="3.0"/><circle cx="520.0" cy="145.3" r="3.0"/><circle cx="436.5" cy="154.3" r="3.0"/><circle cx="431.3" cy="143.0" r="3.0"/><circle cx="442.6" cy="165.6" r="3.0"/><circle cx="431.3" cy="185.9" r="3.0"/><circle cx="477.9" cy="159.1" r="3.0"/><circle cx="471.9" cy="185.1" r="3.0"/><circle cx="594.4" cy="189.9" r="3.0"/><circle cx="579.6" cy="192.6" r="3.0"/><circle cx="228.9" cy="196.0" r="3.0"/><circle cx="230.4" cy="224.6" r="3.0"/><circle cx="207.1" cy="212.6" r="3.0"/><circle cx="195.1" cy="237.4" r="3.0"/><circle cx="187.6" cy="227.6" r="3.0"/><circle cx="182.1" cy="251.6" r="3.0"/><circle cx="225.2" cy="242.6" r="3.0"/><circle cx="225.9" cy="226.1" r="3.0"/><circle cx="278.5" cy="205.0" r="3.0"/><circle cx="270.3" cy="235.1" r="3.0"/><circle cx="256.0" cy="221.6" r="3.0"/><circle cx="238.7" cy="249.4" r="3.0"/><circle cx="268.0" cy="253.9" r="3.0"/><circle cx="241.0" cy="271.2" r="3.0"/><circle cx="291.3" cy="226.8" r="3.0"/><circle cx="304.8" cy="256.1" r="3.0"/><circle cx="315.4" cy="247.9" r="3.0"/><circle cx="287.6" cy="253.1" r="3.0"/><circle cx="305.6" cy="275.7" r="3.0"/><circle cx="288.3" cy="268.2" r="3.0"/><circle cx="289.8" cy="283.2" r="3.0"/><circle cx="300.3" cy="262.2" r="3.0"/><circle cx="259.0" cy="289.2" r="3.0"/><circle cx="270.3" cy="260.7" r="3.0"/><circle cx="270.3" cy="260.7" r="3.0"/><circle cx="270.3" cy="273.4" r="3.0"/><circle cx="250.0" cy="283.2" r="3.0"/><circle cx="264.3" cy="284.0" r="3.0"/><circle cx="186.8" cy="256.1" r="3.0"/><circle cx="205.6" cy="271.9" r="3.0"/><circle cx="171.8" cy="261.4" r="3.0"/><circle cx="193.6" cy="283.2" r="3.0"/><circle cx="222.9" cy="275.7" r="3.0"/><circle cx="193.6" cy="280.2" r="3.0"/><circle cx="222.2" cy="293.7" r="3.0"/><circle cx="207.1" cy="301.2" r="3.0"/><circle cx="218.4" cy="300.0" r="3.0"/><circle cx="214.8" cy="284.6" r="3.0"/><circle cx="225.2" cy="295.2" r="3.0"/><circle cx="217.7" cy="326.1" r="3.0"/><circle cx="313.9" cy="280.2" r="3.0"/><circle cx="327.4" cy="271.9" r="3.0"/><circle cx="322.9" cy="217.1" r="3.0"/><circle cx="348.4" cy="216.3" r="3.0"/><circle cx="349.2" cy="231.3" r="3.0"/><circle cx="325.9" cy="226.1" r="3.0"/><circle cx="354.5" cy="221.6" r="3.0"/><circle cx="360.5" cy="250.1" r="3.0"/><circle cx="391.3" cy="217.8" r="3.0"/><circle cx="388.3" cy="199.0" r="3.0"/><circle cx="366.5" cy="194.5" r="3.0"/><circle cx="381.3" cy="206.4" r="3.0"/><circle cx="269.1" cy="193.2" r="3.0"/><circle cx="281.9" cy="181.2" r="3.0"/><circle cx="327.0" cy="198.2" r="3.0"/><circle cx="341.0" cy="194.1" r="3.0"/><circle cx="399.6" cy="235.1" r="3.0"/><circle cx="421.8" cy="240.3" r="3.0"/><circle cx="404.1" cy="233.6" r="3.0"/><circle cx="415.7" cy="217.6" r="3.0"/><circle cx="264.3" cy="313.3" r="3.0"/><circle cx="291.3" cy="296.7" r="3.0"/><circle cx="307.9" cy="311.8" r="3.0"/><circle cx="290.6" cy="326.8" r="3.0"/><circle cx="299.1" cy="324.3" r="3.0"/><circle cx="285.2" cy="325.0" r="3.0"/><circle cx="252.2" cy="327.6" r="3.0"/><circle cx="278.5" cy="332.1" r="3.0"/><circle cx="247.7" cy="338.1" r="3.0"/><circle cx="266.5" cy="339.4" r="3.0"/><circle cx="159.8" cy="329.8" r="3.0"/><circle cx="188.3" cy="313.3" r="3.0"/><circle cx="213.1" cy="334.3" r="3.0"/><circle cx="235.7" cy="326.8" r="3.0"/><circle cx="337.9" cy="317.8" r="3.0"/><circle cx="324.4" cy="346.3" r="3.0"/><circle cx="318.4" cy="326.8" r="3.0"/><circle cx="310.1" cy="332.1" r="3.0"/><circle cx="315.4" cy="336.6" r="3.0"/><circle cx="332.4" cy="339.8" r="3.0"/><circle cx="402.6" cy="322.3" r="3.0"/><circle cx="403.5" cy="296.3" r="3.0"/><circle cx="382.3" cy="340.3" r="3.0"/><circle cx="400.3" cy="345.6" r="3.0"/><circle cx="186.8" cy="347.1" r="3.0"/><circle cx="201.9" cy="365.1" r="3.0"/><circle cx="207.9" cy="353.9" r="3.0"/><circle cx="238.7" cy="352.4" r="3.0"/><circle cx="273.3" cy="368.9" r="3.0"/><circle cx="291.9" cy="367.1" r="3.0"/><circle cx="298.1" cy="353.1" r="3.0"/><circle cx="287.8" cy="365.3" r="3.0"/><circle cx="351.4" cy="344.1" r="3.0"/><circle cx="360.5" cy="368.9" r="3.0"/><circle cx="365.0" cy="353.1" r="3.0"/><circle cx="378.5" cy="368.9" r="3.0"/><circle cx="360.5" cy="352.9" r="3.0"/><circle cx="376.1" cy="358.1" r="3.0"/><circle cx="399.6" cy="360.6" r="3.0"/><circle cx="417.3" cy="351.6" r="3.0"/><circle cx="328.9" cy="355.4" r="3.0"/><circle cx="314.6" cy="360.9" r="3.0"/><circle cx="465.1" cy="191.5" r="3.0"/><circle cx="477.9" cy="216.3" r="3.0"/><circle cx="507.2" cy="200.5" r="3.0"/><circle cx="486.1" cy="187.3" r="3.0"/><circle cx="465.9" cy="215.6" r="3.0"/><circle cx="453.8" cy="239.6" r="3.0"/><circle cx="458.3" cy="229.1" r="3.0"/><circle cx="473.4" cy="242.9" r="3.0"/><circle cx="453.8" cy="242.6" r="3.0"/><circle cx="451.6" cy="247.9" r="3.0"/><circle cx="471.9" cy="263.7" r="3.0"/><circle cx="459.8" cy="250.1" r="3.0"/><circle cx="505.7" cy="209.5" r="3.0"/><circle cx="527.5" cy="202.0" r="3.0"/><circle cx="507.2" cy="222.8" r="3.0"/><circle cx="520.7" cy="235.1" r="3.0"/><circle cx="557.6" cy="198.3" r="3.0"/><circle cx="532.8" cy="211.0" r="3.0"/><circle cx="553.0" cy="210.3" r="3.0"/><circle cx="567.3" cy="214.1" r="3.0"/><circle cx="604.2" cy="196.0" r="3.0"/><circle cx="584.6" cy="192.3" r="3.0"/><circle cx="652.3" cy="217.4" r="3.0"/><circle cx="624.5" cy="228.3" r="3.0"/><circle cx="623.0" cy="236.6" r="3.0"/><circle cx="601.9" cy="229.8" r="3.0"/><circle cx="592.9" cy="245.6" r="3.0"/><circle cx="611.1" cy="232.3" r="3.0"/><circle cx="514.0" cy="241.1" r="3.0"/><circle cx="530.5" cy="254.6" r="3.0"/><circle cx="539.5" cy="232.8" r="3.0"/><circle cx="564.3" cy="246.4" r="3.0"/><circle cx="549.3" cy="239.6" r="3.0"/><circle cx="567.6" cy="250.8" r="3.0"/><circle cx="516.2" cy="276.4" r="3.0"/><circle cx="526.0" cy="258.8" r="3.0"/><circle cx="536.5" cy="255.4" r="3.0"/><circle cx="546.3" cy="277.9" r="3.0"/><circle cx="531.2" cy="299.7" r="3.0"/><circle cx="525.2" cy="274.2" r="3.0"/><circle cx="553.8" cy="268.2" r="3.0"/><circle cx="583.1" cy="281.7" r="3.0"/><circle cx="592.9" cy="275.7" r="3.0"/><circle cx="601.2" cy="276.4" r="3.0"/><circle cx="587.6" cy="305.0" r="3.0"/><circle cx="591.4" cy="278.7" r="3.0"/><circle cx="620.7" cy="262.9" r="3.0"/><circle cx="635.7" cy="276.0" r="3.0"/><circle cx="682.3" cy="288.5" r="3.0"/><circle cx="657.2" cy="308.8" r="3.0"/><circle cx="571.5" cy="317.8" r="3.0"/><circle cx="566.6" cy="290.7" r="3.0"/><circle cx="452.3" cy="285.0" r="3.0"/><circle cx="475.6" cy="281.7" r="3.0"/><circle cx="497.4" cy="284.0" r="3.0"/><circle cx="486.1" cy="301.2" r="3.0"/><circle cx="472.6" cy="286.2" r="3.0"/><circle cx="480.5" cy="302.3" r="3.0"/><circle cx="489.9" cy="306.1" r="3.0"/><circle cx="472.9" cy="295.7" r="3.0"/><circle cx="431.3" cy="297.5" r="3.0"/><circle cx="436.2" cy="284.6" r="3.0"/><circle cx="442.6" cy="298.2" r="3.0"/><circle cx="456.1" cy="320.0" r="3.0"/><circle cx="517.7" cy="328.3" r="3.0"/><circle cx="504.3" cy="335.7" r="3.0"/><circle cx="539.5" cy="308.8" r="3.0"/><circle cx="527.5" cy="338.1" r="3.0"/><circle cx="539.5" cy="310.3" r="3.0"/><circle cx="549.0" cy="330.2" r="3.0"/><circle cx="562.8" cy="314.8" r="3.0"/><circle cx="559.8" cy="335.8" r="3.0"/><circle cx="576.3" cy="321.5" r="3.0"/><circle cx="596.6" cy="337.3" r="3.0"/><circle cx="610.2" cy="309.5" r="3.0"/><circle cx="596.6" cy="338.1" r="3.0"/><circle cx="577.1" cy="325.3" r="3.0"/><circle cx="573.3" cy="350.9" r="3.0"/><circle cx="556.1" cy="359.9" r="3.0"/><circle cx="586.9" cy="365.1" r="3.0"/><circle cx="620.7" cy="339.6" r="3.0"/><circle cx="645.5" cy="358.4" r="3.0"/><circle cx="504.2" cy="335.5" r="3.0"/><circle cx="480.1" cy="355.4" r="3.0"/><circle cx="469.6" cy="365.1" r="3.0"/><circle cx="489.1" cy="360.7" r="3.0"/><circle cx="514.7" cy="365.1" r="3.0"/><circle cx="539.5" cy="362.1" r="3.0"/><circle cx="599.9" cy="359.3" r="3.0"/><circle cx="602.2" cy="377.0" r="3.0"/><circle cx="423.0" cy="343.3" r="3.0"/><circle cx="428.6" cy="359.4" r="3.0"/><circle cx="246.2" cy="397.8" r="3.0"/><circle cx="223.4" cy="421.1" r="3.0"/><circle cx="241.0" cy="373.8" r="3.0"/><circle cx="264.3" cy="390.3" r="3.0"/><circle cx="261.2" cy="389.5" r="3.0"/><circle cx="283.8" cy="395.6" r="3.0"/><circle cx="295.1" cy="385.0" r="3.0"/><circle cx="305.6" cy="395.6" r="3.0"/><circle cx="279.3" cy="373.0" r="3.0"/><circle cx="291.6" cy="387.7" r="3.0"/><circle cx="293.6" cy="418.1" r="3.0"/><circle cx="286.8" cy="392.6" r="3.0"/><circle cx="288.3" cy="376.0" r="3.0"/><circle cx="306.9" cy="379.3" r="3.0"/><circle cx="315.4" cy="379.0" r="3.0"/><circle cx="325.4" cy="379.9" r="3.0"/><circle cx="321.4" cy="409.1" r="3.0"/><circle cx="316.1" cy="379.8" r="3.0"/><circle cx="345.4" cy="399.3" r="3.0"/><circle cx="333.4" cy="418.1" r="3.0"/><circle cx="343.2" cy="420.4" r="3.0"/><circle cx="353.8" cy="402.0" r="3.0"/><circle cx="356.0" cy="430.9" r="3.0"/><circle cx="349.9" cy="403.8" r="3.0"/><circle cx="362.0" cy="397.1" r="3.0"/><circle cx="392.0" cy="392.6" r="3.0"/><circle cx="393.5" cy="411.3" r="3.0"/><circle cx="373.3" cy="411.2" r="3.0"/><circle cx="415.3" cy="432.4" r="3.0"/><circle cx="393.5" cy="411.3" r="3.0"/><circle cx="311.6" cy="415.1" r="3.0"/><circle cx="342.4" cy="420.4" r="3.0"/><circle cx="371.0" cy="424.9" r="3.0"/><circle cx="363.5" cy="424.1" r="3.0"/><circle cx="254.5" cy="421.9" r="3.0"/><circle cx="244.7" cy="439.9" r="3.0"/><circle cx="262.0" cy="456.9" r="3.0"/><circle cx="253.7" cy="426.4" r="3.0"/><circle cx="287.6" cy="422.6" r="3.0"/><circle cx="286.1" cy="455.4" r="3.0"/><circle cx="300.3" cy="443.7" r="3.0"/><circle cx="313.6" cy="451.4" r="3.0"/><circle cx="332.7" cy="448.9" r="3.0"/><circle cx="304.8" cy="449.7" r="3.0"/><circle cx="337.2" cy="451.9" r="3.0"/><circle cx="354.0" cy="445.6" r="3.0"/><circle cx="331.9" cy="480.5" r="3.0"/><circle cx="344.7" cy="473.7" r="3.0"/><circle cx="381.5" cy="451.9" r="3.0"/><circle cx="390.5" cy="434.6" r="3.0"/><circle cx="196.6" cy="464.0" r="3.0"/><circle cx="225.9" cy="459.4" r="3.0"/><circle cx="243.2" cy="475.2" r="3.0"/><circle cx="256.4" cy="498.5" r="3.0"/><circle cx="384.5" cy="469.2" r="3.0"/><circle cx="410.8" cy="488.0" r="3.0"/><circle cx="388.3" cy="494.0" r="3.0"/><circle cx="393.5" cy="475.2" r="3.0"/><circle cx="380.8" cy="482.8" r="3.0"/><circle cx="359.3" cy="503.8" r="3.0"/><circle cx="319.1" cy="514.6" r="3.0"/><circle cx="342.9" cy="524.5" r="3.0"/><circle cx="411.1" cy="375.1" r="3.0"/><circle cx="423.3" cy="364.9" r="3.0"/><circle cx="430.5" cy="393.3" r="3.0"/><circle cx="426.0" cy="376.0" r="3.0"/><circle cx="413.6" cy="375.3" r="3.0"/><circle cx="427.2" cy="384.1" r="3.0"/><circle cx="461.3" cy="372.3" r="3.0"/><circle cx="466.6" cy="393.3" r="3.0"/><circle cx="438.8" cy="395.6" r="3.0"/><circle cx="450.2" cy="377.6" r="3.0"/><circle cx="496.7" cy="371.5" r="3.0"/><circle cx="507.2" cy="388.8" r="3.0"/><circle cx="513.2" cy="382.8" r="3.0"/><circle cx="547.0" cy="384.3" r="3.0"/><circle cx="526.0" cy="392.6" r="3.0"/><circle cx="542.7" cy="384.8" r="3.0"/><circle cx="527.2" cy="381.4" r="3.0"/><circle cx="542.9" cy="375.3" r="3.0"/><circle cx="552.3" cy="388.0" r="3.0"/><circle cx="582.1" cy="397.1" r="3.0"/><circle cx="594.4" cy="376.8" r="3.0"/><circle cx="619.6" cy="382.8" r="3.0"/><circle cx="619.9" cy="406.1" r="3.0"/><circle cx="589.9" cy="414.8" r="3.0"/><circle cx="476.4" cy="385.8" r="3.0"/><circle cx="486.1" cy="415.1" r="3.0"/><circle cx="501.9" cy="394.1" r="3.0"/><circle cx="510.2" cy="402.3" r="3.0"/><circle cx="508.7" cy="403.8" r="3.0"/><circle cx="497.4" cy="416.6" r="3.0"/><circle cx="465.9" cy="401.6" r="3.0"/><circle cx="443.6" cy="395.6" r="3.0"/><circle cx="443.3" cy="423.4" r="3.0"/><circle cx="463.6" cy="404.6" r="3.0"/><circle cx="436.5" cy="403.8" r="3.0"/><circle cx="432.0" cy="418.9" r="3.0"/><circle cx="508.7" cy="429.4" r="3.0"/><circle cx="509.6" cy="410.5" r="3.0"/><circle cx="552.0" cy="427.9" r="3.0"/><circle cx="563.1" cy="456.9" r="3.0"/><circle cx="489.9" cy="435.4" r="3.0"/><circle cx="475.6" cy="450.4" r="3.0"/><circle cx="474.1" cy="458.7" r="3.0"/><circle cx="504.9" cy="439.9" r="3.0"/><circle cx="482.4" cy="463.2" r="3.0"/><circle cx="505.0" cy="468.8" r="3.0"/><circle cx="426.0" cy="456.4" r="3.0"/><circle cx="436.5" cy="448.2" r="3.0"/><circle cx="427.5" cy="468.5" r="3.0"/><circle cx="432.8" cy="467.7" r="3.0"/><circle cx="518.9" cy="476.0" r="3.0"/><circle cx="537.4" cy="471.4" r="3.0"/></g><g fill="url(#wo)"><circle cx="365.0" cy="237.4" r="4.2"/><circle cx="411.6" cy="246.4" r="4.2"/><circle cx="417.6" cy="229.8" r="4.2"/><circle cx="410.8" cy="302.8" r="4.2"/></g><g fill="url(#wO)"><circle cx="351.4" cy="42.3" r="4.2"/><circle cx="352.2" cy="49.8" r="4.2"/><circle cx="371.0" cy="40.1" r="4.2"/><circle cx="412.3" cy="40.8" r="4.2"/><circle cx="313.9" cy="66.4" r="4.2"/><circle cx="331.2" cy="65.6" r="4.2"/><circle cx="356.0" cy="77.7" r="4.2"/><circle cx="398.8" cy="62.9" r="4.2"/><circle cx="318.4" cy="97.5" r="4.2"/><circle cx="340.9" cy="101.0" r="4.2"/><circle cx="376.3" cy="96.9" r="4.2"/><circle cx="392.8" cy="90.9" r="4.2"/><circle cx="296.6" cy="109.5" r="4.2"/><circle cx="316.1" cy="115.5" r="4.2"/><circle cx="399.6" cy="110.4" r="4.2"/><circle cx="256.0" cy="147.6" r="4.2"/><circle cx="305.6" cy="144.8" r="4.2"/><circle cx="311.6" cy="143.8" r="4.2"/><circle cx="315.1" cy="151.3" r="4.2"/><circle cx="349.2" cy="143.0" r="4.2"/><circle cx="359.0" cy="142.3" r="4.2"/><circle cx="381.2" cy="125.8" r="4.2"/><circle cx="350.7" cy="159.6" r="4.2"/><circle cx="381.5" cy="162.1" r="4.2"/><circle cx="364.2" cy="174.6" r="4.2"/><circle cx="419.1" cy="160.3" r="4.2"/><circle cx="245.5" cy="185.9" r="4.2"/><circle cx="257.5" cy="184.4" r="4.2"/><circle cx="263.5" cy="182.9" r="4.2"/><circle cx="309.4" cy="183.6" r="4.2"/><circle cx="332.7" cy="188.1" r="4.2"/><circle cx="416.1" cy="173.9" r="4.2"/><circle cx="413.1" cy="185.1" r="4.2"/><circle cx="420.0" cy="37.1" r="4.2"/><circle cx="447.8" cy="77.7" r="4.2"/><circle cx="438.8" cy="90.4" r="4.2"/><circle cx="426.8" cy="92.7" r="4.2"/><circle cx="485.4" cy="95.4" r="4.2"/><circle cx="467.4" cy="114.5" r="4.2"/><circle cx="532.8" cy="119.4" r="4.2"/><circle cx="497.0" cy="128.0" r="4.2"/><circle cx="438.5" cy="124.6" r="4.2"/><circle cx="436.5" cy="135.5" r="4.2"/><circle cx="459.4" cy="138.1" r="4.2"/><circle cx="550.8" cy="139.6" r="4.2"/><circle cx="549.6" cy="149.1" r="4.2"/><circle cx="488.4" cy="150.6" r="4.2"/><circle cx="500.4" cy="148.3" r="4.2"/><circle cx="421.5" cy="159.6" r="4.2"/><circle cx="433.5" cy="177.6" r="4.2"/><circle cx="468.1" cy="177.6" r="4.2"/><circle cx="586.6" cy="185.1" r="4.2"/><circle cx="217.7" cy="208.8" r="4.2"/><circle cx="201.9" cy="217.8" r="4.2"/><circle cx="175.9" cy="242.6" r="4.2"/><circle cx="213.9" cy="239.6" r="4.2"/><circle cx="263.5" cy="217.1" r="4.2"/><circle cx="256.7" cy="241.9" r="4.2"/><circle cx="247.0" cy="252.4" r="4.2"/><circle cx="298.1" cy="246.4" r="4.2"/><circle cx="304.8" cy="256.1" r="4.2"/><circle cx="305.6" cy="263.7" r="4.2"/><circle cx="287.6" cy="268.2" r="4.2"/><circle cx="256.0" cy="270.4" r="4.2"/><circle cx="278.1" cy="279.7" r="4.2"/><circle cx="248.5" cy="291.5" r="4.2"/><circle cx="204.1" cy="265.9" r="4.2"/><circle cx="182.3" cy="271.2" r="4.2"/><circle cx="203.4" cy="280.2" r="4.2"/><circle cx="204.9" cy="293.0" r="4.2"/><circle cx="210.1" cy="293.7" r="4.2"/><circle cx="231.9" cy="309.5" r="4.2"/><circle cx="332.7" cy="279.0" r="4.2"/><circle cx="328.9" cy="222.3" r="4.2"/><circle cx="330.4" cy="233.6" r="4.2"/><circle cx="378.5" cy="207.3" r="4.2"/><circle cx="379.3" cy="196.0" r="4.2"/><circle cx="279.3" cy="193.0" r="4.2"/><circle cx="332.7" cy="191.5" r="4.2"/><circle cx="283.8" cy="312.5" r="4.2"/><circle cx="292.8" cy="308.8" r="4.2"/><circle cx="292.1" cy="317.8" r="4.2"/><circle cx="262.8" cy="326.1" r="4.2"/><circle cx="260.5" cy="334.3" r="4.2"/><circle cx="178.6" cy="331.3" r="4.2"/><circle cx="225.2" cy="342.6" r="4.2"/><circle cx="332.7" cy="335.1" r="4.2"/><circle cx="312.4" cy="342.6" r="4.2"/><circle cx="325.1" cy="345.6" r="4.2"/><circle cx="392.8" cy="331.3" r="4.2"/><circle cx="195.1" cy="351.6" r="4.2"/><circle cx="227.4" cy="359.1" r="4.2"/><circle cx="283.0" cy="362.9" r="4.2"/><circle cx="298.8" cy="365.1" r="4.2"/><circle cx="365.0" cy="356.1" r="4.2"/><circle cx="381.5" cy="357.6" r="4.2"/><circle cx="368.0" cy="362.9" r="4.2"/><circle cx="417.6" cy="361.4" r="4.2"/><circle cx="324.4" cy="362.9" r="4.2"/><circle cx="477.1" cy="197.5" r="4.2"/><circle cx="487.7" cy="195.3" r="4.2"/><circle cx="451.6" cy="224.3" r="4.2"/><circle cx="472.6" cy="230.9" r="4.2"/><circle cx="471.9" cy="243.4" r="4.2"/><circle cx="471.9" cy="253.1" r="4.2"/><circle cx="521.5" cy="216.3" r="4.2"/><circle cx="525.2" cy="220.8" r="4.2"/><circle cx="538.8" cy="207.3" r="4.2"/><circle cx="570.3" cy="206.5" r="4.2"/><circle cx="594.4" cy="190.8" r="4.2"/><circle cx="632.0" cy="218.6" r="4.2"/><circle cx="613.2" cy="241.9" r="4.2"/><circle cx="613.2" cy="241.9" r="4.2"/><circle cx="532.8" cy="242.6" r="4.2"/><circle cx="545.5" cy="241.1" r="4.2"/><circle cx="556.1" cy="250.9" r="4.2"/><circle cx="526.7" cy="271.2" r="4.2"/><circle cx="533.5" cy="274.2" r="4.2"/><circle cx="516.2" cy="288.5" r="4.2"/><circle cx="565.1" cy="286.2" r="4.2"/><circle cx="596.6" cy="265.9" r="4.2"/><circle cx="580.1" cy="289.5" r="4.2"/><circle cx="616.9" cy="273.4" r="4.2"/><circle cx="665.0" cy="289.2" r="4.2"/><circle cx="569.6" cy="303.5" r="4.2"/><circle cx="463.6" cy="276.9" r="4.2"/><circle cx="488.4" cy="281.7" r="4.2"/><circle cx="473.4" cy="298.2" r="4.2"/><circle cx="473.4" cy="306.5" r="4.2"/><circle cx="428.3" cy="291.5" r="4.2"/><circle cx="439.5" cy="311.0" r="4.2"/><circle cx="505.7" cy="327.6" r="4.2"/><circle cx="524.5" cy="321.1" r="4.2"/><circle cx="540.3" cy="327.6" r="4.2"/><circle cx="550.0" cy="327.1" r="4.2"/><circle cx="584.6" cy="319.3" r="4.2"/><circle cx="601.9" cy="325.3" r="4.2"/><circle cx="583.9" cy="341.1" r="4.2"/><circle cx="573.3" cy="351.6" r="4.2"/><circle cx="642.2" cy="338.8" r="4.2"/><circle cx="485.4" cy="334.6" r="4.2"/><circle cx="480.1" cy="356.1" r="4.2"/><circle cx="531.2" cy="365.9" r="4.2"/><circle cx="607.9" cy="366.6" r="4.2"/><circle cx="420.0" cy="355.4" r="4.2"/><circle cx="225.9" cy="400.8" r="4.2"/><circle cx="253.7" cy="388.8" r="4.2"/><circle cx="271.8" cy="393.8" r="4.2"/><circle cx="283.8" cy="387.3" r="4.2"/><circle cx="283.8" cy="387.3" r="4.2"/><circle cx="281.5" cy="401.6" r="4.2"/><circle cx="299.6" cy="373.0" r="4.2"/><circle cx="319.1" cy="375.3" r="4.2"/><circle cx="328.1" cy="391.0" r="4.2"/><circle cx="338.7" cy="402.3" r="4.2"/><circle cx="343.9" cy="404.6" r="4.2"/><circle cx="362.7" cy="410.6" r="4.2"/><circle cx="377.0" cy="402.3" r="4.2"/><circle cx="378.5" cy="405.3" r="4.2"/><circle cx="412.3" cy="411.3" r="4.2"/><circle cx="327.4" cy="428.6" r="4.2"/><circle cx="364.2" cy="436.1" r="4.2"/><circle cx="257.5" cy="438.4" r="4.2"/><circle cx="245.5" cy="445.2" r="4.2"/><circle cx="295.8" cy="438.9" r="4.2"/><circle cx="310.9" cy="443.7" r="4.2"/><circle cx="310.1" cy="448.9" r="4.2"/><circle cx="346.9" cy="453.4" r="4.2"/><circle cx="346.9" cy="465.5" r="4.2"/><circle cx="394.3" cy="451.2" r="4.2"/><circle cx="215.4" cy="466.2" r="4.2"/><circle cx="259.0" cy="479.0" r="4.2"/><circle cx="405.6" cy="470.0" r="4.2"/><circle cx="398.1" cy="482.8" r="4.2"/><circle cx="370.2" cy="499.0" r="4.2"/><circle cx="337.2" cy="508.6" r="4.2"/><circle cx="419.1" cy="373.8" r="4.2"/><circle cx="438.8" cy="379.8" r="4.2"/><circle cx="421.5" cy="374.5" r="4.2"/><circle cx="456.8" cy="380.2" r="4.2"/><circle cx="451.6" cy="385.8" r="4.2"/><circle cx="495.2" cy="383.5" r="4.2"/><circle cx="531.2" cy="380.5" r="4.2"/><circle cx="531.2" cy="380.5" r="4.2"/><circle cx="534.3" cy="373.0" r="4.2"/><circle cx="567.3" cy="390.7" r="4.2"/><circle cx="606.4" cy="371.5" r="4.2"/><circle cx="600.4" cy="401.3" r="4.2"/><circle cx="483.9" cy="396.3" r="4.2"/><circle cx="502.7" cy="400.1" r="4.2"/><circle cx="494.4" cy="413.6" r="4.2"/><circle cx="447.8" cy="403.4" r="4.2"/><circle cx="448.6" cy="414.3" r="4.2"/><circle cx="425.3" cy="418.4" r="4.2"/><circle cx="514.4" cy="418.4" r="4.2"/><circle cx="568.1" cy="436.6" r="4.2"/><circle cx="486.1" cy="444.4" r="4.2"/><circle cx="493.7" cy="454.9" r="4.2"/><circle cx="499.2" cy="459.0" r="4.2"/><circle cx="437.3" cy="456.9" r="4.2"/><circle cx="446.3" cy="462.5" r="4.2"/><circle cx="530.9" cy="479.7" r="4.2"/></g></g>
<g id="mol-thymine" transform="translate(290.00,180.00) scale(0.11136)" stroke-linecap="butt">
<line x1="775" y1="600" x2="758" y2="492" stroke="#7c7c7c" stroke-width="84"/><line x1="758" y1="492" x2="740" y2="385" stroke="#e80808" stroke-width="84"/><line x1="765" y1="602" x2="748" y2="494" stroke="#9a9a9a" stroke-width="25" stroke-opacity="0.60"/><line x1="748" y1="494" x2="730" y2="387" stroke="#ff3a3a" stroke-width="25" stroke-opacity="0.60"/>
<line x1="775" y1="600" x2="668" y2="675" stroke="#7c7c7c" stroke-width="84"/><line x1="668" y1="675" x2="560" y2="750" stroke="#2f5fee" stroke-width="84"/><line x1="769" y1="592" x2="662" y2="667" stroke="#9a9a9a" stroke-width="25" stroke-opacity="0.60"/><line x1="662" y1="667" x2="554" y2="742" stroke="#4f7bff" stroke-width="25" stroke-opacity="0.60"/>
<line x1="560" y1="750" x2="552" y2="885" stroke="#2f5fee" stroke-width="84"/><line x1="552" y1="885" x2="545" y2="1020" stroke="#7c7c7c" stroke-width="84"/><line x1="550" y1="749" x2="542" y2="884" stroke="#4f7bff" stroke-width="25" stroke-opacity="0.60"/><line x1="542" y1="884" x2="535" y2="1019" stroke="#9a9a9a" stroke-width="25" stroke-opacity="0.60"/>
<line x1="545" y1="1020" x2="658" y2="1065" stroke="#7c7c7c" stroke-width="84"/><line x1="658" y1="1065" x2="770" y2="1110" stroke="#2f5fee" stroke-width="84"/><line x1="549" y1="1011" x2="661" y2="1056" stroke="#9a9a9a" stroke-width="25" stroke-opacity="0.60"/><line x1="661" y1="1056" x2="774" y2="1101" stroke="#4f7bff" stroke-width="25" stroke-opacity="0.60"/>
<line x1="770" y1="1110" x2="882" y2="1050" stroke="#2f5fee" stroke-width="84"/><line x1="882" y1="1050" x2="995" y2="990" stroke="#7c7c7c" stroke-width="84"/><line x1="765" y1="1101" x2="878" y2="1041" stroke="#4f7bff" stroke-width="25" stroke-opacity="0.60"/><line x1="878" y1="1041" x2="990" y2="981" stroke="#9a9a9a" stroke-width="25" stroke-opacity="0.60"/>
<line x1="995" y1="990" x2="1000" y2="720" stroke="#7c7c7c" stroke-width="84"/><line x1="985" y1="990" x2="990" y2="720" stroke="#9a9a9a" stroke-width="25" stroke-opacity="0.60"/>
<line x1="1000" y1="720" x2="775" y2="600" stroke="#7c7c7c" stroke-width="84"/><line x1="1005" y1="711" x2="780" y2="591" stroke="#9a9a9a" stroke-width="25" stroke-opacity="0.60"/>
<line x1="545" y1="1020" x2="452" y2="1080" stroke="#7c7c7c" stroke-width="84"/><line x1="452" y1="1080" x2="360" y2="1140" stroke="#e80808" stroke-width="84"/><line x1="540" y1="1012" x2="447" y2="1072" stroke="#9a9a9a" stroke-width="25" stroke-opacity="0.60"/><line x1="447" y1="1072" x2="355" y2="1132" stroke="#ff3a3a" stroke-width="25" stroke-opacity="0.60"/>
<line x1="560" y1="750" x2="472" y2="720" stroke="#2f5fee" stroke-width="62"/><line x1="472" y1="720" x2="385" y2="690" stroke="#e6e6e6" stroke-width="62"/><line x1="562" y1="743" x2="475" y2="713" stroke="#4f7bff" stroke-width="19" stroke-opacity="0.60"/><line x1="475" y1="713" x2="387" y2="683" stroke="#f8f8f8" stroke-width="19" stroke-opacity="0.60"/>
<line x1="770" y1="1110" x2="768" y2="1205" stroke="#2f5fee" stroke-width="62"/><line x1="768" y1="1205" x2="765" y2="1300" stroke="#e6e6e6" stroke-width="62"/><line x1="763" y1="1110" x2="760" y2="1205" stroke="#4f7bff" stroke-width="19" stroke-opacity="0.60"/><line x1="760" y1="1205" x2="758" y2="1300" stroke="#f8f8f8" stroke-width="19" stroke-opacity="0.60"/>
<line x1="995" y1="990" x2="1072" y2="1038" stroke="#7c7c7c" stroke-width="62"/><line x1="1072" y1="1038" x2="1150" y2="1085" stroke="#e6e6e6" stroke-width="62"/><line x1="999" y1="984" x2="1076" y2="1031" stroke="#9a9a9a" stroke-width="19" stroke-opacity="0.60"/><line x1="1076" y1="1031" x2="1154" y2="1079" stroke="#f8f8f8" stroke-width="19" stroke-opacity="0.60"/>
<line x1="1000" y1="720" x2="1245" y2="570" stroke="#7c7c7c" stroke-width="84"/><line x1="995" y1="711" x2="1240" y2="561" stroke="#9a9a9a" stroke-width="25" stroke-opacity="0.60"/>
<line x1="1245" y1="570" x2="1230" y2="495" stroke="#7c7c7c" stroke-width="62"/><line x1="1230" y1="495" x2="1215" y2="420" stroke="#e6e6e6" stroke-width="62"/><line x1="1238" y1="571" x2="1223" y2="496" stroke="#9a9a9a" stroke-width="19" stroke-opacity="0.60"/><line x1="1223" y1="496" x2="1208" y2="421" stroke="#f8f8f8" stroke-width="19" stroke-opacity="0.60"/>
<line x1="1245" y1="570" x2="1318" y2="630" stroke="#7c7c7c" stroke-width="62"/><line x1="1318" y1="630" x2="1390" y2="690" stroke="#e6e6e6" stroke-width="62"/><line x1="1250" y1="564" x2="1322" y2="624" stroke="#9a9a9a" stroke-width="19" stroke-opacity="0.60"/><line x1="1322" y1="624" x2="1395" y2="684" stroke="#f8f8f8" stroke-width="19" stroke-opacity="0.60"/>
<line x1="1245" y1="570" x2="1272" y2="520" stroke="#7c7c7c" stroke-width="62"/><line x1="1272" y1="520" x2="1300" y2="470" stroke="#e6e6e6" stroke-width="62"/><line x1="1238" y1="566" x2="1266" y2="516" stroke="#9a9a9a" stroke-width="19" stroke-opacity="0.60"/><line x1="1266" y1="516" x2="1293" y2="466" stroke="#f8f8f8" stroke-width="19" stroke-opacity="0.60"/>
<circle cx="775" cy="600" r="86" fill="url(#gC)"/>
<circle cx="545" cy="1020" r="86" fill="url(#gC)"/>
<circle cx="995" cy="990" r="86" fill="url(#gC)"/>
<circle cx="1000" cy="720" r="86" fill="url(#gC)"/>
<circle cx="1245" cy="570" r="86" fill="url(#gC)"/>
<circle cx="560" cy="750" r="86" fill="url(#gN)"/>
<circle cx="770" cy="1110" r="86" fill="url(#gN)"/>
<circle cx="740" cy="385" r="80" fill="url(#gO)"/>
<circle cx="360" cy="1140" r="80" fill="url(#gO)"/>
<circle cx="385" cy="690" r="52" fill="url(#gH)"/>
<circle cx="765" cy="1300" r="58" fill="url(#gH)"/>
<circle cx="1150" cy="1085" r="52" fill="url(#gH)"/>
<circle cx="1215" cy="420" r="52" fill="url(#gH)"/>
<circle cx="1390" cy="690" r="58" fill="url(#gH)"/>
<circle cx="1300" cy="470" r="46" fill="url(#gH)"/>
</g>
<g id="mol-s1-initial" transform="translate(960.00,0.00) scale(0.17817)" stroke-linecap="butt">
<ellipse cx="450" cy="900" rx="68" ry="112" fill="url(#gR)" transform="rotate(-8 450 900)"/>
<ellipse cx="1212" cy="902" rx="70" ry="132" fill="url(#gB)" transform="rotate(14 1212 902)"/>
<line x1="805" y1="230" x2="810" y2="560" stroke="#e80808" stroke-width="56"/><line x1="798" y1="230" x2="803" y2="560" stroke="#ff3a3a" stroke-width="17" stroke-opacity="0.60"/>
<line x1="815" y1="620" x2="680" y2="750" stroke="#7c7c7c" stroke-width="74"/><line x1="680" y1="750" x2="545" y2="880" stroke="#2f5fee" stroke-width="74"/><line x1="809" y1="614" x2="674" y2="744" stroke="#9a9a9a" stroke-width="22" stroke-opacity="0.60"/><line x1="674" y1="744" x2="539" y2="874" stroke="#4f7bff" stroke-width="22" stroke-opacity="0.60"/>
<line x1="545" y1="880" x2="540" y2="1000" stroke="#2f5fee" stroke-width="114"/><line x1="540" y1="1000" x2="535" y2="1120" stroke="#7c7c7c" stroke-width="114"/><line x1="531" y1="879" x2="526" y2="999" stroke="#4f7bff" stroke-width="34" stroke-opacity="0.60"/><line x1="526" y1="999" x2="521" y2="1119" stroke="#9a9a9a" stroke-width="34" stroke-opacity="0.60"/>
<line x1="535" y1="1120" x2="675" y2="1190" stroke="#7c7c7c" stroke-width="74"/><line x1="675" y1="1190" x2="815" y2="1260" stroke="#2f5fee" stroke-width="74"/><line x1="539" y1="1112" x2="679" y2="1182" stroke="#9a9a9a" stroke-width="22" stroke-opacity="0.60"/><line x1="679" y1="1182" x2="819" y2="1252" stroke="#4f7bff" stroke-width="22" stroke-opacity="0.60"/>
<line x1="815" y1="1260" x2="958" y2="1182" stroke="#2f5fee" stroke-width="74"/><line x1="958" y1="1182" x2="1100" y2="1105" stroke="#7c7c7c" stroke-width="74"/><line x1="811" y1="1252" x2="953" y2="1175" stroke="#4f7bff" stroke-width="22" stroke-opacity="0.60"/><line x1="953" y1="1175" x2="1096" y2="1097" stroke="#9a9a9a" stroke-width="22" stroke-opacity="0.60"/>
<line x1="1100" y1="1105" x2="1125" y2="790" stroke="#7c7c7c" stroke-width="104"/><line x1="1088" y1="1104" x2="1113" y2="789" stroke="#9a9a9a" stroke-width="31" stroke-opacity="0.60"/>
<line x1="1130" y1="790" x2="815" y2="620" stroke="#7c7c7c" stroke-width="74"/><line x1="1134" y1="782" x2="819" y2="612" stroke="#9a9a9a" stroke-width="22" stroke-opacity="0.60"/>
<line x1="545" y1="880" x2="438" y2="790" stroke="#2f5fee" stroke-width="68"/><line x1="438" y1="790" x2="330" y2="700" stroke="#e6e6e6" stroke-width="68"/><line x1="550" y1="874" x2="443" y2="784" stroke="#4f7bff" stroke-width="20" stroke-opacity="0.60"/><line x1="443" y1="784" x2="335" y2="694" stroke="#f8f8f8" stroke-width="20" stroke-opacity="0.60"/>
<line x1="815" y1="1260" x2="815" y2="1380" stroke="#2f5fee" stroke-width="74"/><line x1="815" y1="1380" x2="815" y2="1500" stroke="#e6e6e6" stroke-width="74"/><line x1="806" y1="1260" x2="806" y2="1380" stroke="#4f7bff" stroke-width="22" stroke-opacity="0.60"/><line x1="806" y1="1380" x2="806" y2="1500" stroke="#f8f8f8" stroke-width="22" stroke-opacity="0.60"/>
<line x1="1100" y1="1105" x2="1202" y2="1180" stroke="#7c7c7c" stroke-width="74"/><line x1="1202" y1="1180" x2="1305" y2="1255" stroke="#e6e6e6" stroke-width="74"/><line x1="1105" y1="1098" x2="1208" y2="1173" stroke="#9a9a9a" stroke-width="22" stroke-opacity="0.60"/><line x1="1208" y1="1173" x2="1310" y2="1248" stroke="#f8f8f8" stroke-width="22" stroke-opacity="0.60"/>
<line x1="1130" y1="790" x2="1415" y2="610" stroke="#7c7c7c" stroke-width="80"/><line x1="1125" y1="782" x2="1410" y2="602" stroke="#9a9a9a" stroke-width="24" stroke-opacity="0.60"/>
<line x1="1415" y1="610" x2="1421" y2="548" stroke="#7c7c7c" stroke-width="74"/><line x1="1421" y1="548" x2="1430" y2="455" stroke="#e6e6e6" stroke-width="74"/><line x1="1406" y1="609" x2="1412" y2="547" stroke="#9a9a9a" stroke-width="22" stroke-opacity="0.60"/><line x1="1412" y1="547" x2="1421" y2="454" stroke="#f8f8f8" stroke-width="22" stroke-opacity="0.60"/>
<line x1="1415" y1="610" x2="1495" y2="674" stroke="#7c7c7c" stroke-width="74"/><line x1="1495" y1="674" x2="1615" y2="770" stroke="#e6e6e6" stroke-width="74"/><line x1="1421" y1="603" x2="1501" y2="667" stroke="#9a9a9a" stroke-width="22" stroke-opacity="0.60"/><line x1="1501" y1="667" x2="1621" y2="763" stroke="#f8f8f8" stroke-width="22" stroke-opacity="0.60"/>
<line x1="535" y1="1120" x2="432" y2="1175" stroke="#7c7c7c" stroke-width="74"/><line x1="432" y1="1175" x2="330" y2="1230" stroke="#e80808" stroke-width="74"/><line x1="531" y1="1112" x2="428" y2="1167" stroke="#9a9a9a" stroke-width="22" stroke-opacity="0.60"/><line x1="428" y1="1167" x2="326" y2="1222" stroke="#ff3a3a" stroke-width="22" stroke-opacity="0.60"/>
<circle cx="815" cy="620" r="108" fill="url(#gC)"/>
<circle cx="535" cy="1120" r="108" fill="url(#gC)"/>
<circle cx="1100" cy="1105" r="108" fill="url(#gC)"/>
<circle cx="1130" cy="790" r="108" fill="url(#gC)"/>
<circle cx="1415" cy="610" r="108" fill="url(#gC)"/>
<circle cx="545" cy="880" r="100" fill="url(#gN)"/>
<circle cx="815" cy="1260" r="100" fill="url(#gN)"/>
<circle cx="330" cy="700" r="74" fill="url(#gH)"/>
<circle cx="815" cy="1500" r="74" fill="url(#gH)"/>
<circle cx="1305" cy="1255" r="74" fill="url(#gH)"/>
<circle cx="1430" cy="455" r="74" fill="url(#gH)"/>
<circle cx="1615" cy="770" r="74" fill="url(#gH)"/>
<ellipse cx="1428" cy="552" rx="66" ry="46" fill="#6a6a6a"/>
<ellipse cx="1428" cy="540" rx="60" ry="40" fill="#8c8c8c"/>
<circle cx="1430" cy="455" r="74" fill="url(#gH)"/>
<ellipse cx="255" cy="1165" rx="112" ry="96" fill="url(#gB)" transform="rotate(-10 255 1165)"/>
<line x1="300" y1="1245" x2="420" y2="1180" stroke="#e80808" stroke-width="60"/><line x1="297" y1="1239" x2="417" y2="1174" stroke="#ff3a3a" stroke-width="18" stroke-opacity="0.60"/>
<ellipse cx="320" cy="1350" rx="130" ry="122" fill="url(#gR)" transform="rotate(-12 320 1350)"/>
<ellipse cx="630" cy="330" rx="158" ry="200" fill="url(#gR)" transform="rotate(-12 630 330)"/>
<ellipse cx="965" cy="320" rx="160" ry="206" fill="url(#gB)" transform="rotate(-8 965 320)"/>
<ellipse cx="615" cy="752" rx="150" ry="136" fill="url(#gB)"/>
<path d="M 850,650 C 870,590 1000,580 1090,620 C 1170,660 1160,760 1110,820 C 1060,880 1000,900 960,870 C 900,830 840,740 850,650 Z" fill="url(#gR)"/>
</g>
<g id="mol-s2-initial" transform="translate(960.00,280.00) scale(0.17817)" stroke-linecap="butt">
<ellipse cx="320" cy="1120" rx="95" ry="105" fill="url(#gR)"/>
<ellipse cx="1070" cy="566" rx="140" ry="72" fill="url(#gR)" transform="rotate(-8 1070 566)"/>
<ellipse cx="960" cy="860" rx="60" ry="200" fill="url(#gR)" transform="rotate(-18 960 860)"/>
<ellipse cx="1420" cy="390" rx="108" ry="140" fill="url(#gB)" transform="rotate(-5 1420 390)"/>
<ellipse cx="800" cy="1170" rx="150" ry="170" fill="url(#gB)" transform="rotate(-20 800 1170)"/>
<line x1="790" y1="300" x2="792" y2="370" stroke="#e80808" stroke-width="112"/><line x1="792" y1="370" x2="795" y2="500" stroke="#7c7c7c" stroke-width="112"/><line x1="777" y1="300" x2="778" y2="370" stroke="#ff3a3a" stroke-width="34" stroke-opacity="0.60"/><line x1="778" y1="370" x2="782" y2="500" stroke="#9a9a9a" stroke-width="34" stroke-opacity="0.60"/>
<line x1="800" y1="500" x2="665" y2="595" stroke="#7c7c7c" stroke-width="74"/><line x1="665" y1="595" x2="530" y2="690" stroke="#2f5fee" stroke-width="74"/><line x1="795" y1="493" x2="660" y2="588" stroke="#9a9a9a" stroke-width="22" stroke-opacity="0.60"/><line x1="660" y1="588" x2="525" y2="683" stroke="#4f7bff" stroke-width="22" stroke-opacity="0.60"/>
<line x1="530" y1="690" x2="525" y2="850" stroke="#2f5fee" stroke-width="120"/><line x1="525" y1="850" x2="520" y2="1010" stroke="#7c7c7c" stroke-width="120"/><line x1="516" y1="690" x2="511" y2="850" stroke="#4f7bff" stroke-width="36" stroke-opacity="0.60"/><line x1="511" y1="850" x2="506" y2="1010" stroke="#9a9a9a" stroke-width="36" stroke-opacity="0.60"/>
<line x1="520" y1="1010" x2="660" y2="1080" stroke="#7c7c7c" stroke-width="74"/><line x1="660" y1="1080" x2="800" y2="1150" stroke="#2f5fee" stroke-width="74"/><line x1="524" y1="1002" x2="664" y2="1072" stroke="#9a9a9a" stroke-width="22" stroke-opacity="0.60"/><line x1="664" y1="1072" x2="804" y2="1142" stroke="#4f7bff" stroke-width="22" stroke-opacity="0.60"/>
<line x1="800" y1="1150" x2="974" y2="1057" stroke="#2f5fee" stroke-width="74"/><line x1="974" y1="1057" x2="1080" y2="1000" stroke="#7c7c7c" stroke-width="74"/><line x1="796" y1="1142" x2="969" y2="1049" stroke="#4f7bff" stroke-width="22" stroke-opacity="0.60"/><line x1="969" y1="1049" x2="1076" y2="992" stroke="#9a9a9a" stroke-width="22" stroke-opacity="0.60"/>
<line x1="800" y1="500" x2="1100" y2="700" stroke="#7c7c7c" stroke-width="74"/><line x1="805" y1="493" x2="1105" y2="693" stroke="#9a9a9a" stroke-width="22" stroke-opacity="0.60"/>
<line x1="1100" y1="700" x2="1390" y2="500" stroke="#7c7c7c" stroke-width="80"/><line x1="1095" y1="692" x2="1385" y2="492" stroke="#9a9a9a" stroke-width="24" stroke-opacity="0.60"/>
<line x1="530" y1="690" x2="422" y2="640" stroke="#2f5fee" stroke-width="68"/><line x1="422" y1="640" x2="315" y2="590" stroke="#e6e6e6" stroke-width="68"/><line x1="533" y1="683" x2="426" y2="633" stroke="#4f7bff" stroke-width="20" stroke-opacity="0.60"/><line x1="426" y1="633" x2="318" y2="583" stroke="#f8f8f8" stroke-width="20" stroke-opacity="0.60"/>
<line x1="800" y1="1150" x2="800" y2="1275" stroke="#2f5fee" stroke-width="74"/><line x1="800" y1="1275" x2="800" y2="1400" stroke="#e6e6e6" stroke-width="74"/><line x1="791" y1="1150" x2="791" y2="1275" stroke="#4f7bff" stroke-width="22" stroke-opacity="0.60"/><line x1="791" y1="1275" x2="791" y2="1400" stroke="#f8f8f8" stroke-width="22" stroke-opacity="0.60"/>
<line x1="1080" y1="1000" x2="1185" y2="1072" stroke="#7c7c7c" stroke-width="74"/><line x1="1185" y1="1072" x2="1290" y2="1145" stroke="#e6e6e6" stroke-width="74"/><line x1="1085" y1="993" x2="1190" y2="1065" stroke="#9a9a9a" stroke-width="22" stroke-opacity="0.60"/><line x1="1190" y1="1065" x2="1295" y2="1138" stroke="#f8f8f8" stroke-width="22" stroke-opacity="0.60"/>
<line x1="1390" y1="500" x2="1474" y2="562" stroke="#7c7c7c" stroke-width="74"/><line x1="1474" y1="562" x2="1600" y2="655" stroke="#e6e6e6" stroke-width="74"/><line x1="1395" y1="493" x2="1479" y2="555" stroke="#9a9a9a" stroke-width="22" stroke-opacity="0.60"/><line x1="1479" y1="555" x2="1605" y2="648" stroke="#f8f8f8" stroke-width="22" stroke-opacity="0.60"/>
<line x1="520" y1="1010" x2="410" y2="1075" stroke="#7c7c7c" stroke-width="74"/><line x1="410" y1="1075" x2="300" y2="1140" stroke="#e80808" stroke-width="74"/><line x1="515" y1="1002" x2="405" y2="1067" stroke="#9a9a9a" stroke-width="22" stroke-opacity="0.60"/><line x1="405" y1="1067" x2="295" y2="1132" stroke="#ff3a3a" stroke-width="22" stroke-opacity="0.60"/>
<circle cx="800" cy="500" r="108" fill="url(#gC)"/>
<circle cx="520" cy="1010" r="108" fill="url(#gC)"/>
<circle cx="1390" cy="500" r="108" fill="url(#gC)"/>
<circle cx="530" cy="690" r="100" fill="url(#gN)"/>
<circle cx="315" cy="590" r="74" fill="url(#gH)"/>
<circle cx="800" cy="1400" r="74" fill="url(#gH)"/>
<circle cx="1290" cy="1145" r="74" fill="url(#gH)"/>
<circle cx="1600" cy="655" r="74" fill="url(#gH)"/>
<ellipse cx="775" cy="225" rx="138" ry="135" fill="url(#gR)"/>
<ellipse cx="1422" cy="395" rx="100" ry="140" fill="url(#gR)" transform="rotate(-6 1422 395)"/>
<ellipse cx="258" cy="1165" rx="126" ry="126" fill="url(#gB)"/>
<path d="M 845,580 C 900,525 1080,480 1200,545 C 1310,620 1310,820 1285,980 C 1260,1110 1180,1140 1110,1125 C 1020,1100 960,1000 920,880 C 890,780 830,640 845,580 Z" fill="url(#gB)"/>
<path d="M 525,1010 C 560,950 760,990 860,1040 C 950,1090 960,1220 900,1290 C 830,1360 720,1340 650,1250 C 600,1180 510,1070 525,1010 Z" fill="url(#gR)"/>
</g>
<g id="mol-s1-final" transform="translate(1430.00,0.00) scale(0.17817)" stroke-linecap="butt">
<ellipse cx="455" cy="760" rx="75" ry="60" fill="url(#gR)"/>
<ellipse cx="560" cy="880" rx="40" ry="60" fill="url(#gR)"/>
<ellipse cx="1060" cy="1110" rx="200" ry="120" fill="url(#gR)"/>
<ellipse cx="850" cy="575" rx="180" ry="45" fill="url(#gB)" transform="rotate(12 850 575)"/>
<line x1="740" y1="420" x2="740" y2="520" stroke="#e80808" stroke-width="112"/><line x1="727" y1="420" x2="727" y2="520" stroke="#ff3a3a" stroke-width="34" stroke-opacity="0.60"/>
<line x1="740" y1="500" x2="740" y2="600" stroke="#7c7c7c" stroke-width="112"/><line x1="727" y1="500" x2="727" y2="600" stroke="#9a9a9a" stroke-width="34" stroke-opacity="0.60"/>
<line x1="720" y1="690" x2="546" y2="764" stroke="#7c7c7c" stroke-width="74"/><line x1="546" y1="764" x2="440" y2="810" stroke="#2f5fee" stroke-width="74"/><line x1="717" y1="682" x2="543" y2="756" stroke="#9a9a9a" stroke-width="22" stroke-opacity="0.60"/><line x1="543" y1="756" x2="437" y2="802" stroke="#4f7bff" stroke-width="22" stroke-opacity="0.60"/>
<line x1="460" y1="840" x2="468" y2="990" stroke="#2f5fee" stroke-width="122"/><line x1="468" y1="990" x2="475" y2="1140" stroke="#7c7c7c" stroke-width="122"/><line x1="445" y1="841" x2="453" y2="991" stroke="#4f7bff" stroke-width="37" stroke-opacity="0.60"/><line x1="453" y1="991" x2="460" y2="1141" stroke="#9a9a9a" stroke-width="37" stroke-opacity="0.60"/>
<line x1="475" y1="1140" x2="638" y2="1215" stroke="#7c7c7c" stroke-width="74"/><line x1="638" y1="1215" x2="800" y2="1290" stroke="#2f5fee" stroke-width="74"/><line x1="479" y1="1132" x2="641" y2="1207" stroke="#9a9a9a" stroke-width="22" stroke-opacity="0.60"/><line x1="641" y1="1207" x2="804" y2="1282" stroke="#4f7bff" stroke-width="22" stroke-opacity="0.60"/>
<line x1="800" y1="1290" x2="1050" y2="1150" stroke="#2f5fee" stroke-width="74"/><line x1="796" y1="1282" x2="1046" y2="1142" stroke="#4f7bff" stroke-width="22" stroke-opacity="0.60"/>
<line x1="1045" y1="860" x2="1045" y2="1120" stroke="#7c7c7c" stroke-width="112"/><line x1="1032" y1="860" x2="1032" y2="1120" stroke="#9a9a9a" stroke-width="34" stroke-opacity="0.60"/>
<line x1="1080" y1="850" x2="1350" y2="640" stroke="#7c7c7c" stroke-width="80"/><line x1="1074" y1="842" x2="1344" y2="632" stroke="#9a9a9a" stroke-width="24" stroke-opacity="0.60"/>
<line x1="460" y1="840" x2="362" y2="785" stroke="#2f5fee" stroke-width="68"/><line x1="362" y1="785" x2="265" y2="730" stroke="#e6e6e6" stroke-width="68"/><line x1="464" y1="833" x2="367" y2="778" stroke="#4f7bff" stroke-width="20" stroke-opacity="0.60"/><line x1="367" y1="778" x2="269" y2="723" stroke="#f8f8f8" stroke-width="20" stroke-opacity="0.60"/>
<line x1="790" y1="1290" x2="770" y2="1422" stroke="#2f5fee" stroke-width="74"/><line x1="770" y1="1422" x2="750" y2="1555" stroke="#e6e6e6" stroke-width="74"/><line x1="781" y1="1289" x2="761" y2="1421" stroke="#4f7bff" stroke-width="22" stroke-opacity="0.60"/><line x1="761" y1="1421" x2="741" y2="1554" stroke="#f8f8f8" stroke-width="22" stroke-opacity="0.60"/>
<line x1="1050" y1="1150" x2="1150" y2="1220" stroke="#7c7c7c" stroke-width="74"/><line x1="1150" y1="1220" x2="1250" y2="1290" stroke="#e6e6e6" stroke-width="74"/><line x1="1055" y1="1143" x2="1155" y2="1213" stroke="#9a9a9a" stroke-width="22" stroke-opacity="0.60"/><line x1="1155" y1="1213" x2="1255" y2="1283" stroke="#f8f8f8" stroke-width="22" stroke-opacity="0.60"/>
<line x1="1350" y1="640" x2="1356" y2="578" stroke="#7c7c7c" stroke-width="74"/><line x1="1356" y1="578" x2="1365" y2="485" stroke="#e6e6e6" stroke-width="74"/><line x1="1341" y1="639" x2="1347" y2="577" stroke="#9a9a9a" stroke-width="22" stroke-opacity="0.60"/><line x1="1347" y1="577" x2="1356" y2="484" stroke="#f8f8f8" stroke-width="22" stroke-opacity="0.60"/>
<line x1="1350" y1="640" x2="1430" y2="702" stroke="#7c7c7c" stroke-width="74"/><line x1="1430" y1="702" x2="1550" y2="795" stroke="#e6e6e6" stroke-width="74"/><line x1="1355" y1="633" x2="1435" y2="695" stroke="#9a9a9a" stroke-width="22" stroke-opacity="0.60"/><line x1="1435" y1="695" x2="1555" y2="788" stroke="#f8f8f8" stroke-width="22" stroke-opacity="0.60"/>
<line x1="475" y1="1140" x2="350" y2="1215" stroke="#7c7c7c" stroke-width="74"/><line x1="350" y1="1215" x2="225" y2="1290" stroke="#e80808" stroke-width="74"/><line x1="470" y1="1132" x2="345" y2="1207" stroke="#9a9a9a" stroke-width="22" stroke-opacity="0.60"/><line x1="345" y1="1207" x2="220" y2="1282" stroke="#ff3a3a" stroke-width="22" stroke-opacity="0.60"/>
<circle cx="475" cy="1140" r="108" fill="url(#gC)"/>
<circle cx="1350" cy="640" r="108" fill="url(#gC)"/>
<circle cx="800" cy="1300" r="100" fill="url(#gN)"/>
<circle cx="225" cy="1290" r="104" fill="url(#gO)"/>
<circle cx="265" cy="730" r="74" fill="url(#gH)"/>
<circle cx="750" cy="1555" r="74" fill="url(#gH)"/>
<circle cx="1250" cy="1290" r="74" fill="url(#gH)"/>
<circle cx="1365" cy="485" r="74" fill="url(#gH)"/>
<circle cx="1550" cy="795" r="74" fill="url(#gH)"/>
<ellipse cx="1362" cy="588" rx="66" ry="44" fill="#6a6a6a"/>
<ellipse cx="1363" cy="574" rx="60" ry="40" fill="#909090"/>
<circle cx="1365" cy="485" r="74" fill="url(#gH)"/>
<ellipse cx="725" cy="340" rx="148" ry="140" fill="url(#gB)"/>
<ellipse cx="908" cy="722" rx="292" ry="182" fill="url(#gR)" transform="rotate(14 908 722)"/>
<ellipse cx="455" cy="840" rx="122" ry="130" fill="url(#gB)"/>
<ellipse cx="1075" cy="1187" rx="206" ry="193" fill="url(#gB)"/>
<path d="M 485,1215 C 520,1170 700,1185 790,1240 C 850,1290 840,1400 760,1435 C 690,1460 620,1400 580,1340 C 540,1290 480,1260 485,1215 Z" fill="url(#gR)"/>
</g>
<g id="mol-s2-final" transform="translate(1430.00,265.70) scale(0.17817)" stroke-linecap="butt">
<ellipse cx="455" cy="760" rx="75" ry="60" fill="url(#gR)"/>
<ellipse cx="560" cy="880" rx="40" ry="60" fill="url(#gR)"/>
<ellipse cx="1060" cy="1110" rx="200" ry="120" fill="url(#gR)"/>
<ellipse cx="850" cy="575" rx="180" ry="45" fill="url(#gB)" transform="rotate(12 850 575)"/>
<line x1="740" y1="420" x2="740" y2="520" stroke="#e80808" stroke-width="112"/><line x1="727" y1="420" x2="727" y2="520" stroke="#ff3a3a" stroke-width="34" stroke-opacity="0.60"/>
<line x1="740" y1="500" x2="740" y2="600" stroke="#7c7c7c" stroke-width="112"/><line x1="727" y1="500" x2="727" y2="600" stroke="#9a9a9a" stroke-width="34" stroke-opacity="0.60"/>
<line x1="720" y1="690" x2="546" y2="764" stroke="#7c7c7c" stroke-width="74"/><line x1="546" y1="764" x2="440" y2="810" stroke="#2f5fee" stroke-width="74"/><line x1="717" y1="682" x2="543" y2="756" stroke="#9a9a9a" stroke-width="22" stroke-opacity="0.60"/><line x1="543" y1="756" x2="437" y2="802" stroke="#4f7bff" stroke-width="22" stroke-opacity="0.60"/>
<line x1="460" y1="840" x2="468" y2="990" stroke="#2f5fee" stroke-width="122"/><line x1="468" y1="990" x2="475" y2="1140" stroke="#7c7c7c" stroke-width="122"/><line x1="445" y1="841" x2="453" y2="991" stroke="#4f7bff" stroke-width="37" stroke-opacity="0.60"/><line x1="453" y1="991" x2="460" y2="1141" stroke="#9a9a9a" stroke-width="37" stroke-opacity="0.60"/>
<line x1="475" y1="1140" x2="638" y2="1215" stroke="#7c7c7c" stroke-width="74"/><line x1="638" y1="1215" x2="800" y2="1290" stroke="#2f5fee" stroke-width="74"/><line x1="479" y1="1132" x2="641" y2="1207" stroke="#9a9a9a" stroke-width="22" stroke-opacity="0.60"/><line x1="641" y1="1207" x2="804" y2="1282" stroke="#4f7bff" stroke-width="22" stroke-opacity="0.60"/>
<line x1="800" y1="1290" x2="1050" y2="1150" stroke="#2f5fee" stroke-width="74"/><line x1="796" y1="1282" x2="1046" y2="1142" stroke="#4f7bff" stroke-width="22" stroke-opacity="0.60"/>
<line x1="1045" y1="860" x2="1045" y2="1120" stroke="#7c7c7c" stroke-width="112"/><line x1="1032" y1="860" x2="1032" y2="1120" stroke="#9a9a9a" stroke-width="34" stroke-opacity="0.60"/>
<line x1="1080" y1="850" x2="1350" y2="640" stroke="#7c7c7c" stroke-width="80"/><line x1="1074" y1="842" x2="1344" y2="632" stroke="#9a9a9a" stroke-width="24" stroke-opacity="0.60"/>
<line x1="460" y1="840" x2="362" y2="785" stroke="#2f5fee" stroke-width="68"/><line x1="362" y1="785" x2="265" y2="730" stroke="#e6e6e6" stroke-width="68"/><line x1="464" y1="833" x2="367" y2="778" stroke="#4f7bff" stroke-width="20" stroke-opacity="0.60"/><line x1="367" y1="778" x2="269" y2="723" stroke="#f8f8f8" stroke-width="20" stroke-opacity="0.60"/>
<line x1="790" y1="1290" x2="770" y2="1422" stroke="#2f5fee" stroke-width="74"/><line x1="770" y1="1422" x2="750" y2="1555" stroke="#e6e6e6" stroke-width="74"/><line x1="781" y1="1289" x2="761" y2="1421" stroke="#4f7bff" stroke-width="22" stroke-opacity="0.60"/><line x1="761" y1="1421" x2="741" y2="1554" stroke="#f8f8f8" stroke-width="22" stroke-opacity="0.60"/>
<line x1="1050" y1="1150" x2="1150" y2="1220" stroke="#7c7c7c" stroke-width="74"/><line x1="1150" y1="1220" x2="1250" y2="1290" stroke="#e6e6e6" stroke-width="74"/><line x1="1055" y1="1143" x2="1155" y2="1213" stroke="#9a9a9a" stroke-width="22" stroke-opacity="0.60"/><line x1="1155" y1="1213" x2="1255" y2="1283" stroke="#f8f8f8" stroke-width="22" stroke-opacity="0.60"/>
<line x1="1350" y1="640" x2="1356" y2="578" stroke="#7c7c7c" stroke-width="74"/><line x1="1356" y1="578" x2="1365" y2="485" stroke="#e6e6e6" stroke-width="74"/><line x1="1341" y1="639" x2="1347" y2="577" stroke="#9a9a9a" stroke-width="22" stroke-opacity="0.60"/><line x1="1347" y1="577" x2="1356" y2="484" stroke="#f8f8f8" stroke-width="22" stroke-opacity="0.60"/>
<line x1="1350" y1="640" x2="1430" y2="702" stroke="#7c7c7c" stroke-width="74"/><line x1="1430" y1="702" x2="1550" y2="795" stroke="#e6e6e6" stroke-width="74"/><line x1="1355" y1="633" x2="1435" y2="695" stroke="#9a9a9a" stroke-width="22" stroke-opacity="0.60"/><line x1="1435" y1="695" x2="1555" y2="788" stroke="#f8f8f8" stroke-width="22" stroke-opacity="0.60"/>
<line x1="475" y1="1140" x2="350" y2="1215" stroke="#7c7c7c" stroke-width="74"/><line x1="350" y1="1215" x2="225" y2="1290" stroke="#e80808" stroke-width="74"/><line x1="470" y1="1132" x2="345" y2="1207" stroke="#9a9a9a" stroke-width="22" stroke-opacity="0.60"/><line x1="345" y1="1207" x2="220" y2="1282" stroke="#ff3a3a" stroke-width="22" stroke-opacity="0.60"/>
<circle cx="475" cy="1140" r="108" fill="url(#gC)"/>
<circle cx="1350" cy="640" r="108" fill="url(#gC)"/>
<circle cx="800" cy="1300" r="100" fill="url(#gN)"/>
<circle cx="225" cy="1290" r="104" fill="url(#gO)"/>
<circle cx="265" cy="730" r="74" fill="url(#gH)"/>
<circle cx="750" cy="1555" r="74" fill="url(#gH)"/>
<circle cx="1250" cy="1290" r="74" fill="url(#gH)"/>
<circle cx="1365" cy="485" r="74" fill="url(#gH)"/>
<circle cx="1550" cy="795" r="74" fill="url(#gH)"/>
<ellipse cx="1362" cy="588" rx="66" ry="44" fill="#6a6a6a"/>
<ellipse cx="1363" cy="574" rx="60" ry="40" fill="#909090"/>
<circle cx="1365" cy="485" r="74" fill="url(#gH)"/>
<ellipse cx="725" cy="340" rx="148" ry="140" fill="url(#gB)"/>
<ellipse cx="908" cy="722" rx="292" ry="182" fill="url(#gR)" transform="rotate(14 908 722)"/>
<ellipse cx="455" cy="840" rx="122" ry="130" fill="url(#gB)"/>
<ellipse cx="1075" cy="1187" rx="206" ry="193" fill="url(#gB)"/>
<path d="M 485,1215 C 520,1170 700,1185 790,1240 C 850,1290 840,1400 760,1435 C 690,1460 620,1400 580,1340 C 540,1290 480,1260 485,1215 Z" fill="url(#gR)"/>
</g>
<g fill="#000000" stroke="#000000"><rect x="1261" y="142.3" width="166" height="14.4" stroke="none"/><path d="M 1426.5,133.7 L 1441.3,149.5 L 1426.5,165.3 Z" stroke-width="3.4" stroke-linejoin="round"/></g>
<g fill="#000000" stroke="#000000"><rect x="1261" y="431.3" width="166" height="14.4" stroke="none"/><path d="M 1426.5,422.7 L 1441.3,438.5 L 1426.5,454.3 Z" stroke-width="3.4" stroke-linejoin="round"/></g>

<!--/MOL-->
<g fill="none" stroke-width="12.6" stroke-linejoin="miter" stroke-linecap="butt">
<polyline stroke="#000000" points="258.0,1758.4 296.4,1762.3 334.8,1764.5 373.2,1766.2 411.6,1765.3 450.0,1767.0 488.4,1773.7 526.8,1782.9 565.2,1785.6 603.6,1788.2 642.0,1788.2 680.4,1796.0 718.8,1794.3 757.2,1778.5 795.6,1752.4 834.0,1709.4 872.4,1684.0 910.8,1670.5 949.2,1673.0 987.6,1685.7 1026.0,1706.5 1064.4,1727.5 1102.8,1746.0 1141.2,1751.1 1179.6,1739.5 1218.0,1717.9 1256.4,1683.6 1294.8,1634.2 1333.2,1577.1 1371.6,1517.0 1410.0,1458.8 1448.4,1407.0 1486.8,1357.4 1525.2,1315.4 1563.6,1278.2 1602.0,1249.7 1640.4,1224.1 1678.8,1196.3 1717.2,1159.5 1755.6,1109.0"/>
<polyline stroke="#ff0000" points="258.0,1211.5 296.4,1211.2 334.8,1210.3 373.2,1209.4 411.6,1205.9 450.0,1202.4 488.4,1204.9 526.8,1212.2 565.2,1212.6 603.6,1212.9 642.0,1208.7 680.4,1216.3 718.8,1216.3 757.2,1205.3 795.6,1189.8 834.0,1159.5 872.4,1145.9 910.8,1144.5 949.2,1158.4 987.6,1178.7 1026.0,1203.3 1064.4,1227.6 1102.8,1252.3 1141.2,1256.0 1179.6,1244.8 1218.0,1224.3 1256.4,1195.1 1294.8,1162.0 1333.2,1128.2 1371.6,1100.7 1410.0,1072.3 1448.4,1061.2 1486.8,1051.0 1525.2,1051.8 1563.6,1060.1 1602.0,1075.3 1640.4,1096.0 1678.8,1111.8 1717.2,1116.3 1755.6,1109.0"/>
<polyline stroke="#0000ff" points="258.0,1207.6 296.4,1205.6 334.8,1203.2 373.2,1200.7 411.6,1193.8 450.0,1186.9 488.4,1187.0 526.8,1189.8 565.2,1186.1 603.6,1182.4 642.0,1174.2 680.4,1176.4 718.8,1171.7 757.2,1156.1 795.6,1134.1 834.0,1097.3 872.4,1077.5 910.8,1069.5 949.2,1074.8 987.6,1089.3 1026.0,1109.4 1064.4,1129.8 1102.8,1150.6 1141.2,1155.9 1179.6,1144.3 1218.0,1125.4 1256.4,1096.4 1294.8,1053.5 1333.2,1007.5 1371.6,967.2 1410.0,932.5 1448.4,909.0 1486.8,886.6 1525.2,875.3 1563.6,870.6 1602.0,872.2 1640.4,876.9 1678.8,877.5 1717.2,867.8 1755.6,841.8"/>
<polyline stroke="#008000" points="258.0,1053.7 296.4,1054.8 334.8,1055.9 373.2,1055.5 411.6,1054.1 450.0,1052.7 488.4,1058.0 526.8,1063.7 565.2,1064.5 603.6,1065.3 642.0,1060.7 680.4,1066.1 718.8,1062.0 757.2,1043.9 795.6,1015.1 834.0,971.7 872.4,946.3 910.8,935.4 949.2,940.1 987.6,953.2 1026.0,975.9 1064.4,998.9 1102.8,1022.0 1141.2,1028.7 1179.6,1018.5 1218.0,1001.3 1256.4,973.4 1294.8,937.1 1333.2,898.0 1371.6,855.0 1410.0,818.4 1448.4,789.6 1486.8,762.5 1525.2,745.9 1563.6,734.6 1602.0,731.8 1640.4,732.7 1678.8,730.5 1717.2,720.0 1755.6,695.4"/>
</g>
<g fill="#000000">
<rect x="234" y="550.8" width="1536" height="12.5"/>
<rect x="234" y="1790.5" width="1536" height="12.5"/>
<rect x="255.4" y="550.8" width="12.5" height="1252.2"/>
<rect x="1752.2" y="550.8" width="12.5" height="1252.2"/>
<rect x="234" y="675.0" width="24" height="12"/>
<rect x="234" y="798.9" width="24" height="12"/>
<rect x="234" y="922.9" width="24" height="12"/>
<rect x="234" y="1046.9" width="24" height="12"/>
<rect x="234" y="1170.8" width="24" height="12"/>
<rect x="234" y="1294.8" width="24" height="12"/>
<rect x="234" y="1418.8" width="24" height="12"/>
<rect x="234" y="1542.8" width="24" height="12"/>
<rect x="234" y="1666.7" width="24" height="12"/>
</g>
<g fill="#000000">
<circle cx="262.3" cy="1207.6" r="18.2"/>
<circle cx="688.7" cy="1789.8" r="18.2"/>
<circle cx="1131.0" cy="1253.0" r="18.2"/>
<circle cx="1749.5" cy="1108.6" r="18.2"/>
</g>
<g>
<rect x="310" y="625.6" width="123" height="12.8" fill="#000000"/>
<rect x="310" y="724.0" width="123" height="12.8" fill="#ff0000"/>
<rect x="737" y="621.0" width="122.6" height="12.8" fill="#0000ff"/>
<rect x="739" y="718.2" width="122.6" height="12.8" fill="#008000"/>
</g>
<!--TEXT-->
<text font-family='"Liberation Sans","DejaVu Sans",sans-serif' font-style="normal" fill="#000000"><tspan x="84.08" y="580.32" font-size="79.66" textLength="146.05" lengthAdjust="spacingAndGlyphs">12.0</tspan></text>
<text font-family='"Liberation Sans","DejaVu Sans",sans-serif' font-style="normal" fill="#000000"><tspan x="118.38" y="1209.22" font-size="79.52" textLength="107.44" lengthAdjust="spacingAndGlyphs">6.0</tspan></text>
<text font-family='"Liberation Sans","DejaVu Sans",sans-serif' font-style="normal" fill="#000000"><tspan x="117.73" y="1819.63" font-size="79.24" textLength="105.53" lengthAdjust="spacingAndGlyphs">0.0</tspan></text>
<text font-family='"DejaVu Sans","Liberation Sans",sans-serif' fill="#000000" font-size="76.2"><tspan x="683.25" y="1899.70" textLength="348.35" lengthAdjust="spacingAndGlyphs">Geodesic</tspan> <tspan x="1054.72" y="1899.70" textLength="172.32" lengthAdjust="spacingAndGlyphs">path</tspan></text>
<text font-family='"DejaVu Sans","Liberation Sans",sans-serif' fill="#000000" font-size="77.0" transform="translate(84.4,0) rotate(-90)"><tspan x="-1580.96" y="0.00" textLength="305.65" lengthAdjust="spacingAndGlyphs">Relative</tspan> <tspan x="-1249.65" y="0.00" textLength="263.70" lengthAdjust="spacingAndGlyphs">energy</tspan> <tspan x="-958.52" y="0.00" textLength="167.44" lengthAdjust="spacingAndGlyphs">(eV)</tspan></text>
<text font-family='"DejaVu Sans","Liberation Sans",sans-serif' font-style="normal" fill="#000000" aria-label="S0"><tspan x="445.32" y="648.90" font-size="77.35" textLength="54.67" lengthAdjust="spacingAndGlyphs">S</tspan><tspan x="498.51" y="663.62" font-size="76.42" textLength="50.13" lengthAdjust="spacingAndGlyphs">0</tspan></text>
<text font-family='"DejaVu Sans","Liberation Sans",sans-serif' font-style="normal" fill="#000000" aria-label="S1"><tspan x="449.32" y="751.51" font-size="77.21" textLength="54.67" lengthAdjust="spacingAndGlyphs">S</tspan><tspan x="504.14" y="766.80" font-size="50.62" textLength="29.31" lengthAdjust="spacingAndGlyphs">1</tspan></text>
<text font-family='"DejaVu Sans","Liberation Sans",sans-serif' font-style="normal" fill="#000000" aria-label="S2"><tspan x="881.07" y="648.90" font-size="77.35" textLength="54.18" lengthAdjust="spacingAndGlyphs">S</tspan><tspan x="933.70" y="664.10" font-size="49.58" textLength="34.77" lengthAdjust="spacingAndGlyphs">2</tspan></text>
<text font-family='"DejaVu Sans","Liberation Sans",sans-serif' font-style="normal" fill="#000000" aria-label="S3"><tspan x="884.31" y="751.51" font-size="77.21" textLength="54.80" lengthAdjust="spacingAndGlyphs">S</tspan><tspan x="937.40" y="766.99" font-size="50.24" textLength="33.40" lengthAdjust="spacingAndGlyphs">3</tspan></text>
<text font-family='"DejaVu Sans","Liberation Sans",sans-serif' font-style="normal" fill="#000000" aria-label="S1 nπ*"><tspan x="719.79" y="171.10" font-size="77.61" textLength="54.05" lengthAdjust="spacingAndGlyphs">S</tspan><tspan x="774.61" y="185.60" font-size="50.07" textLength="30.05" lengthAdjust="spacingAndGlyphs">1</tspan><tspan x="832.07" y="176.95" font-size="71.10" textLength="47.42" lengthAdjust="spacingAndGlyphs" stroke="#ffffff" stroke-width="1.00" font-family='"Liberation Serif","DejaVu Serif",serif' font-style="italic">n</tspan><tspan x="879.01" y="176.60" font-size="71.47" textLength="38.22" lengthAdjust="spacingAndGlyphs" stroke="#ffffff" stroke-width="0.40" font-family='"Liberation Serif","DejaVu Serif",serif' font-style="italic">π</tspan><tspan x="923.20" y="161.15" font-size="59.18" textLength="27.65" lengthAdjust="spacingAndGlyphs" font-family='"Liberation Serif","DejaVu Serif",serif' font-style="normal">*</tspan></text>
<text font-family='"DejaVu Sans","Liberation Sans",sans-serif' font-style="normal" fill="#000000" aria-label="S2 ππ*"><tspan x="712.40" y="460.49" font-size="78.27" textLength="53.93" lengthAdjust="spacingAndGlyphs">S</tspan><tspan x="765.10" y="474.40" font-size="50.39" textLength="34.77" lengthAdjust="spacingAndGlyphs">2</tspan><tspan x="835.32" y="465.80" font-size="71.68" textLength="37.35" lengthAdjust="spacingAndGlyphs" stroke="#ffffff" stroke-width="0.40" font-family='"Liberation Serif","DejaVu Serif",serif' font-style="italic">π</tspan><tspan x="879.01" y="465.80" font-size="71.68" textLength="38.22" lengthAdjust="spacingAndGlyphs" stroke="#ffffff" stroke-width="0.40" font-family='"Liberation Serif","DejaVu Serif",serif' font-style="italic">π</tspan><tspan x="923.25" y="450.05" font-size="59.18" textLength="27.15" lengthAdjust="spacingAndGlyphs" font-family='"Liberation Serif","DejaVu Serif",serif' font-style="normal">*</tspan></text>
<text font-family='"Liberation Sans","DejaVu Sans",sans-serif' font-style="normal" fill="#000000" aria-label="S0"><tspan x="664.94" y="1747.21" font-size="80.51" textLength="50.86" lengthAdjust="spacingAndGlyphs">S</tspan><tspan x="714.96" y="1760.13" font-size="48.02" textLength="29.09" lengthAdjust="spacingAndGlyphs">0</tspan></text>
<text font-family='"Liberation Serif","DejaVu Serif",serif' font-style="italic" fill="#000000" aria-label="nπ*/ππ*"><tspan x="280.38" y="1147.15" font-size="63.24" textLength="41.62" lengthAdjust="spacingAndGlyphs" stroke="#ffffff" stroke-width="1.00">n</tspan><tspan x="325.09" y="1146.78" font-size="63.36" textLength="30.88" lengthAdjust="spacingAndGlyphs" stroke="#ffffff" stroke-width="0.40">π</tspan><tspan x="360.84" y="1130.23" font-size="42.81" textLength="24.17" lengthAdjust="spacingAndGlyphs" font-family='"Liberation Serif","DejaVu Serif",serif' font-style="normal">*</tspan><tspan x="392.10" y="1161.67" font-size="97.39" textLength="26.41" lengthAdjust="spacingAndGlyphs" stroke="#ffffff" stroke-width="0.90" font-family='"Liberation Serif","DejaVu Serif",serif' font-style="normal">/</tspan><tspan x="422.76" y="1146.78" font-size="63.36" textLength="33.77" lengthAdjust="spacingAndGlyphs" stroke="#ffffff" stroke-width="0.40">π</tspan><tspan x="461.87" y="1146.78" font-size="63.36" textLength="33.00" lengthAdjust="spacingAndGlyphs" stroke="#ffffff" stroke-width="0.40">π</tspan><tspan x="500.96" y="1130.23" font-size="42.81" textLength="23.93" lengthAdjust="spacingAndGlyphs" font-family='"Liberation Serif","DejaVu Serif",serif' font-style="normal">*</tspan></text>
<text font-family='"Liberation Serif","DejaVu Serif",serif' font-style="italic" fill="#000000" aria-label="nπ*"><tspan x="1050.96" y="1338.55" font-size="62.40" textLength="40.56" lengthAdjust="spacingAndGlyphs" stroke="#ffffff" stroke-width="1.00">n</tspan><tspan x="1092.96" y="1338.19" font-size="62.51" textLength="33.49" lengthAdjust="spacingAndGlyphs" stroke="#ffffff" stroke-width="0.40">π</tspan><tspan x="1131.22" y="1323.86" font-size="50.18" textLength="24.42" lengthAdjust="spacingAndGlyphs" font-family='"Liberation Serif","DejaVu Serif",serif' font-style="normal">*</tspan></text>
<text font-family='"Liberation Serif","DejaVu Serif",serif' font-style="italic" fill="#000000" aria-label="S0/nπ*"><tspan x="1525.74" y="1010.61" font-size="75.61" textLength="43.20" lengthAdjust="spacingAndGlyphs" stroke="#ffffff" stroke-width="1.00">S</tspan><tspan x="1564.91" y="1018.56" font-size="45.20" textLength="26.38" lengthAdjust="spacingAndGlyphs" stroke="#ffffff" stroke-width="0.40" font-family='"Liberation Serif","DejaVu Serif",serif' font-style="normal">0</tspan><tspan x="1598.39" y="1024.84" font-size="101.13" textLength="26.61" lengthAdjust="spacingAndGlyphs" stroke="#ffffff" stroke-width="0.90" font-family='"Liberation Serif","DejaVu Serif",serif' font-style="normal">/</tspan><tspan x="1627.19" y="1010.35" font-size="63.46" textLength="47.18" lengthAdjust="spacingAndGlyphs" stroke="#ffffff" stroke-width="1.00">n</tspan><tspan x="1670.34" y="1009.98" font-size="63.57" textLength="35.22" lengthAdjust="spacingAndGlyphs" stroke="#ffffff" stroke-width="0.40">π</tspan><tspan x="1710.65" y="996.57" font-size="55.09" textLength="25.04" lengthAdjust="spacingAndGlyphs" font-family='"Liberation Serif","DejaVu Serif",serif' font-style="normal">*</tspan></text>

<!--/TEXT-->
</svg>
</body>
</html>
